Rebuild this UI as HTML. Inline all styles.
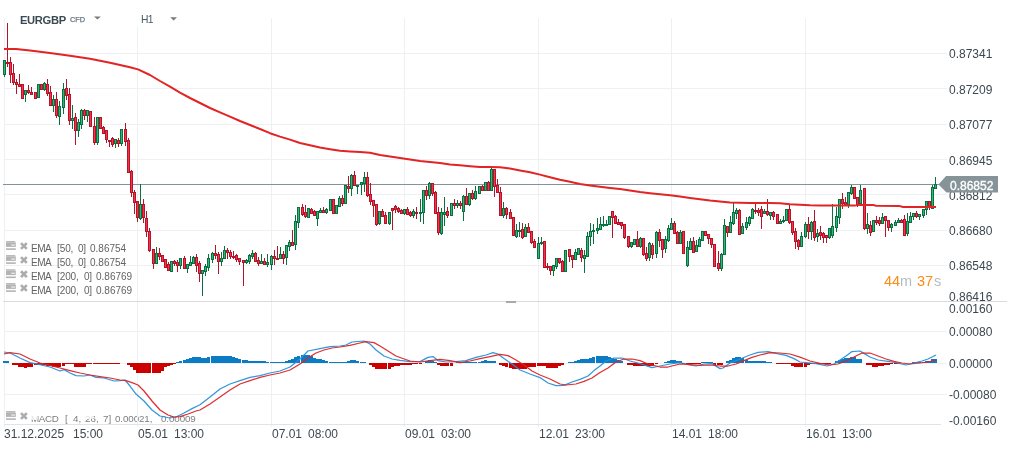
<!DOCTYPE html>
<html><head><meta charset="utf-8"><title>EURGBP H1</title>
<style>
html,body{margin:0;padding:0;background:#fff;}
body{width:1009px;height:450px;position:relative;overflow:hidden;font-family:"Liberation Sans",sans-serif;}
.t{position:absolute;white-space:pre;line-height:1;will-change:transform;}
.ax{font-size:12px;color:#3c4850;left:949px;}
.tm{font-size:12px;color:#3c4850;top:427.6px;}
.lg{font-size:9.6px;color:#6e6e6e;left:31.2px;}
</style></head><body>
<div class="t" style="left:30.7px;top:413.9px;font-size:9.8px;color:#7e7e7e;letter-spacing:-0.3px">MACD</div><div class="t" style="left:64.7px;top:413.9px;font-size:9.8px;color:#7e7e7e;letter-spacing:0px">[</div><div class="t" style="left:73.3px;top:413.9px;font-size:9.8px;color:#7e7e7e;letter-spacing:0px">4,</div><div class="t" style="left:84.6px;top:413.9px;font-size:9.8px;color:#7e7e7e;letter-spacing:0px">26,</div><div class="t" style="left:103.4px;top:413.9px;font-size:9.8px;color:#7e7e7e;letter-spacing:0px">7]</div><div class="t" style="left:114.8px;top:413.9px;font-size:9.8px;color:#7e7e7e;letter-spacing:-0.1px">0.00021,</div><div class="t" style="left:161.1px;top:413.9px;font-size:9.8px;color:#7e7e7e;letter-spacing:-0.1px">0.00009</div>
<div style="position:absolute;left:31px;top:414.5px;width:7px;height:5px;background:#fff;opacity:.8;border-radius:2px"></div>
<div style="position:absolute;left:85px;top:414.5px;width:9px;height:4.5px;background:#fff;opacity:.75;border-radius:2px"></div>
<svg width="1009" height="450" viewBox="0 0 1009 450" style="position:absolute;left:0;top:0">
<rect x="4" y="53" width="943" height="1" fill="#eef0f3"/>
<rect x="4" y="88" width="943" height="1" fill="#eef0f3"/>
<rect x="4" y="124" width="943" height="1" fill="#eef0f3"/>
<rect x="4" y="159" width="943" height="1" fill="#eef0f3"/>
<rect x="4" y="194" width="943" height="1" fill="#eef0f3"/>
<rect x="4" y="230" width="943" height="1" fill="#eef0f3"/>
<rect x="4" y="265" width="943" height="1" fill="#eef0f3"/>
<rect x="4" y="331" width="943" height="1" fill="#eef0f3"/>
<rect x="4" y="363" width="943" height="1" fill="#eef0f3"/>
<rect x="4" y="394" width="943" height="1" fill="#eef0f3"/>
<rect x="4" y="18" width="1" height="409" fill="#eef0f3"/>
<rect x="137" y="18" width="1" height="409" fill="#eef0f3"/>
<rect x="271" y="18" width="1" height="409" fill="#eef0f3"/>
<rect x="404" y="18" width="1" height="409" fill="#eef0f3"/>
<rect x="538" y="18" width="1" height="409" fill="#eef0f3"/>
<rect x="671" y="18" width="1" height="409" fill="#eef0f3"/>
<rect x="805" y="18" width="1" height="409" fill="#eef0f3"/>
<rect x="3" y="301" width="1004" height="1" fill="#d9dbde"/>
<rect x="506" y="301" width="10" height="2" fill="#a9a9a9"/>
<rect x="4" y="424" width="937" height="1" fill="#e2e3e6"/>
<rect x="134" y="10" width="50" height="16.5" fill="#fff"/>
<rect x="3" y="184" width="937" height="1" fill="#86929a"/>
<rect x="4" y="60" width="1" height="17" fill="#0b7040"/>
<rect x="3" y="60" width="3" height="15" fill="#0b7040"/>
<rect x="4" y="61" width="1" height="13" fill="#2db87a"/>
<rect x="7" y="23" width="1" height="44" fill="#b0152a"/>
<rect x="6" y="62" width="3" height="2" fill="#b0152a"/>
<rect x="10" y="57" width="1" height="26" fill="#b0152a"/>
<rect x="9" y="62" width="3" height="13" fill="#b0152a"/>
<rect x="10" y="63" width="1" height="11" fill="#ff2d45"/>
<rect x="13" y="64" width="1" height="21" fill="#b0152a"/>
<rect x="12" y="73" width="3" height="10" fill="#b0152a"/>
<rect x="13" y="74" width="1" height="8" fill="#ff2d45"/>
<rect x="16" y="79" width="1" height="15" fill="#b0152a"/>
<rect x="15" y="82" width="3" height="3" fill="#b0152a"/>
<rect x="16" y="83" width="1" height="1" fill="#ff2d45"/>
<rect x="19" y="74" width="1" height="13" fill="#b0152a"/>
<rect x="18" y="84" width="3" height="3" fill="#b0152a"/>
<rect x="19" y="85" width="1" height="1" fill="#ff2d45"/>
<rect x="22" y="84" width="1" height="15" fill="#b0152a"/>
<rect x="21" y="84" width="3" height="15" fill="#b0152a"/>
<rect x="22" y="85" width="1" height="13" fill="#ff2d45"/>
<rect x="25" y="90" width="1" height="12" fill="#0b7040"/>
<rect x="24" y="90" width="3" height="5" fill="#0b7040"/>
<rect x="25" y="91" width="1" height="3" fill="#2db87a"/>
<rect x="28" y="85" width="1" height="9" fill="#b0152a"/>
<rect x="27" y="90" width="3" height="3" fill="#b0152a"/>
<rect x="28" y="91" width="1" height="1" fill="#ff2d45"/>
<rect x="31" y="87" width="1" height="8" fill="#b0152a"/>
<rect x="30" y="92" width="3" height="3" fill="#b0152a"/>
<rect x="31" y="93" width="1" height="1" fill="#ff2d45"/>
<rect x="35" y="92" width="1" height="7" fill="#b0152a"/>
<rect x="34" y="92" width="3" height="7" fill="#b0152a"/>
<rect x="35" y="93" width="1" height="5" fill="#ff2d45"/>
<rect x="38" y="84" width="1" height="14" fill="#0b7040"/>
<rect x="37" y="84" width="3" height="14" fill="#0b7040"/>
<rect x="38" y="85" width="1" height="12" fill="#2db87a"/>
<rect x="41" y="84" width="1" height="6" fill="#b0152a"/>
<rect x="40" y="84" width="3" height="6" fill="#b0152a"/>
<rect x="41" y="85" width="1" height="4" fill="#ff2d45"/>
<rect x="44" y="82" width="1" height="9" fill="#0b7040"/>
<rect x="43" y="83" width="3" height="7" fill="#0b7040"/>
<rect x="44" y="84" width="1" height="5" fill="#2db87a"/>
<rect x="47" y="79" width="1" height="17" fill="#b0152a"/>
<rect x="46" y="84" width="3" height="10" fill="#b0152a"/>
<rect x="47" y="85" width="1" height="8" fill="#ff2d45"/>
<rect x="50" y="86" width="1" height="20" fill="#b0152a"/>
<rect x="49" y="92" width="3" height="14" fill="#b0152a"/>
<rect x="50" y="93" width="1" height="12" fill="#ff2d45"/>
<rect x="53" y="95" width="1" height="17" fill="#0b7040"/>
<rect x="52" y="99" width="3" height="7" fill="#0b7040"/>
<rect x="53" y="100" width="1" height="5" fill="#2db87a"/>
<rect x="56" y="92" width="1" height="26" fill="#b0152a"/>
<rect x="55" y="99" width="3" height="17" fill="#b0152a"/>
<rect x="56" y="100" width="1" height="15" fill="#ff2d45"/>
<rect x="59" y="101" width="1" height="24" fill="#0b7040"/>
<rect x="58" y="106" width="3" height="11" fill="#0b7040"/>
<rect x="59" y="107" width="1" height="9" fill="#2db87a"/>
<rect x="63" y="83" width="1" height="31" fill="#0b7040"/>
<rect x="62" y="89" width="3" height="19" fill="#0b7040"/>
<rect x="63" y="90" width="1" height="17" fill="#2db87a"/>
<rect x="66" y="79" width="1" height="21" fill="#b0152a"/>
<rect x="65" y="88" width="3" height="8" fill="#b0152a"/>
<rect x="66" y="89" width="1" height="6" fill="#ff2d45"/>
<rect x="69" y="88" width="1" height="37" fill="#b0152a"/>
<rect x="68" y="94" width="3" height="27" fill="#b0152a"/>
<rect x="69" y="95" width="1" height="25" fill="#ff2d45"/>
<rect x="72" y="105" width="1" height="24" fill="#0b7040"/>
<rect x="71" y="118" width="3" height="3" fill="#0b7040"/>
<rect x="72" y="119" width="1" height="1" fill="#2db87a"/>
<rect x="75" y="113" width="1" height="32" fill="#b0152a"/>
<rect x="74" y="117" width="3" height="14" fill="#b0152a"/>
<rect x="75" y="118" width="1" height="12" fill="#ff2d45"/>
<rect x="78" y="119" width="1" height="18" fill="#0b7040"/>
<rect x="77" y="122" width="3" height="9" fill="#0b7040"/>
<rect x="78" y="123" width="1" height="7" fill="#2db87a"/>
<rect x="81" y="109" width="1" height="20" fill="#0b7040"/>
<rect x="80" y="110" width="3" height="15" fill="#0b7040"/>
<rect x="81" y="111" width="1" height="13" fill="#2db87a"/>
<rect x="84" y="109" width="1" height="11" fill="#b0152a"/>
<rect x="83" y="110" width="3" height="6" fill="#b0152a"/>
<rect x="84" y="111" width="1" height="4" fill="#ff2d45"/>
<rect x="87" y="110" width="1" height="12" fill="#0b7040"/>
<rect x="86" y="110" width="3" height="6" fill="#0b7040"/>
<rect x="87" y="111" width="1" height="4" fill="#2db87a"/>
<rect x="90" y="111" width="1" height="16" fill="#b0152a"/>
<rect x="89" y="111" width="3" height="16" fill="#b0152a"/>
<rect x="90" y="112" width="1" height="14" fill="#ff2d45"/>
<rect x="94" y="117" width="1" height="28" fill="#b0152a"/>
<rect x="93" y="126" width="3" height="17" fill="#b0152a"/>
<rect x="94" y="127" width="1" height="15" fill="#ff2d45"/>
<rect x="97" y="117" width="1" height="28" fill="#0b7040"/>
<rect x="96" y="117" width="3" height="26" fill="#0b7040"/>
<rect x="97" y="118" width="1" height="24" fill="#2db87a"/>
<rect x="100" y="117" width="1" height="12" fill="#b0152a"/>
<rect x="99" y="117" width="3" height="12" fill="#b0152a"/>
<rect x="100" y="118" width="1" height="10" fill="#ff2d45"/>
<rect x="103" y="126" width="1" height="8" fill="#b0152a"/>
<rect x="102" y="127" width="3" height="7" fill="#b0152a"/>
<rect x="103" y="128" width="1" height="5" fill="#ff2d45"/>
<rect x="106" y="130" width="1" height="13" fill="#b0152a"/>
<rect x="105" y="130" width="3" height="10" fill="#b0152a"/>
<rect x="106" y="131" width="1" height="8" fill="#ff2d45"/>
<rect x="109" y="140" width="1" height="7" fill="#b0152a"/>
<rect x="108" y="140" width="3" height="2" fill="#b0152a"/>
<rect x="112" y="137" width="1" height="10" fill="#b0152a"/>
<rect x="111" y="138" width="3" height="7" fill="#b0152a"/>
<rect x="112" y="139" width="1" height="5" fill="#ff2d45"/>
<rect x="115" y="139" width="1" height="9" fill="#0b7040"/>
<rect x="114" y="139" width="3" height="5" fill="#0b7040"/>
<rect x="115" y="140" width="1" height="3" fill="#2db87a"/>
<rect x="118" y="138" width="1" height="9" fill="#b0152a"/>
<rect x="117" y="140" width="3" height="4" fill="#b0152a"/>
<rect x="118" y="141" width="1" height="2" fill="#ff2d45"/>
<rect x="121" y="129" width="1" height="17" fill="#0b7040"/>
<rect x="120" y="129" width="3" height="15" fill="#0b7040"/>
<rect x="121" y="130" width="1" height="13" fill="#2db87a"/>
<rect x="125" y="123" width="1" height="23" fill="#b0152a"/>
<rect x="124" y="129" width="3" height="13" fill="#b0152a"/>
<rect x="125" y="130" width="1" height="11" fill="#ff2d45"/>
<rect x="128" y="138" width="1" height="35" fill="#b0152a"/>
<rect x="127" y="140" width="3" height="33" fill="#b0152a"/>
<rect x="128" y="141" width="1" height="31" fill="#ff2d45"/>
<rect x="131" y="170" width="1" height="27" fill="#b0152a"/>
<rect x="130" y="171" width="3" height="22" fill="#b0152a"/>
<rect x="131" y="172" width="1" height="20" fill="#ff2d45"/>
<rect x="134" y="190" width="1" height="24" fill="#b0152a"/>
<rect x="133" y="192" width="3" height="11" fill="#b0152a"/>
<rect x="134" y="193" width="1" height="9" fill="#ff2d45"/>
<rect x="137" y="201" width="1" height="21" fill="#b0152a"/>
<rect x="136" y="201" width="3" height="17" fill="#b0152a"/>
<rect x="137" y="202" width="1" height="15" fill="#ff2d45"/>
<rect x="140" y="184" width="1" height="36" fill="#0b7040"/>
<rect x="139" y="204" width="3" height="15" fill="#0b7040"/>
<rect x="140" y="205" width="1" height="13" fill="#2db87a"/>
<rect x="143" y="199" width="1" height="24" fill="#b0152a"/>
<rect x="142" y="204" width="3" height="14" fill="#b0152a"/>
<rect x="143" y="205" width="1" height="12" fill="#ff2d45"/>
<rect x="146" y="211" width="1" height="26" fill="#b0152a"/>
<rect x="145" y="218" width="3" height="14" fill="#b0152a"/>
<rect x="146" y="219" width="1" height="12" fill="#ff2d45"/>
<rect x="149" y="228" width="1" height="24" fill="#b0152a"/>
<rect x="148" y="231" width="3" height="20" fill="#b0152a"/>
<rect x="149" y="232" width="1" height="18" fill="#ff2d45"/>
<rect x="153" y="249" width="1" height="20" fill="#b0152a"/>
<rect x="152" y="249" width="3" height="15" fill="#b0152a"/>
<rect x="153" y="250" width="1" height="13" fill="#ff2d45"/>
<rect x="156" y="247" width="1" height="17" fill="#0b7040"/>
<rect x="155" y="253" width="3" height="11" fill="#0b7040"/>
<rect x="156" y="254" width="1" height="9" fill="#2db87a"/>
<rect x="159" y="248" width="1" height="12" fill="#b0152a"/>
<rect x="158" y="253" width="3" height="4" fill="#b0152a"/>
<rect x="159" y="254" width="1" height="2" fill="#ff2d45"/>
<rect x="162" y="255" width="1" height="7" fill="#b0152a"/>
<rect x="161" y="255" width="3" height="7" fill="#b0152a"/>
<rect x="162" y="256" width="1" height="5" fill="#ff2d45"/>
<rect x="165" y="259" width="1" height="9" fill="#b0152a"/>
<rect x="164" y="259" width="3" height="9" fill="#b0152a"/>
<rect x="165" y="260" width="1" height="7" fill="#ff2d45"/>
<rect x="168" y="262" width="1" height="9" fill="#b0152a"/>
<rect x="167" y="264" width="3" height="7" fill="#b0152a"/>
<rect x="168" y="265" width="1" height="5" fill="#ff2d45"/>
<rect x="171" y="261" width="1" height="11" fill="#0b7040"/>
<rect x="170" y="261" width="3" height="11" fill="#0b7040"/>
<rect x="171" y="262" width="1" height="9" fill="#2db87a"/>
<rect x="174" y="260" width="1" height="6" fill="#b0152a"/>
<rect x="173" y="261" width="3" height="3" fill="#b0152a"/>
<rect x="174" y="262" width="1" height="1" fill="#ff2d45"/>
<rect x="177" y="260" width="1" height="12" fill="#b0152a"/>
<rect x="176" y="262" width="3" height="4" fill="#b0152a"/>
<rect x="177" y="263" width="1" height="2" fill="#ff2d45"/>
<rect x="180" y="258" width="1" height="11" fill="#0b7040"/>
<rect x="179" y="258" width="3" height="8" fill="#0b7040"/>
<rect x="180" y="259" width="1" height="6" fill="#2db87a"/>
<rect x="184" y="256" width="1" height="13" fill="#b0152a"/>
<rect x="183" y="258" width="3" height="11" fill="#b0152a"/>
<rect x="184" y="259" width="1" height="9" fill="#ff2d45"/>
<rect x="187" y="264" width="1" height="9" fill="#0b7040"/>
<rect x="186" y="264" width="3" height="5" fill="#0b7040"/>
<rect x="187" y="265" width="1" height="3" fill="#2db87a"/>
<rect x="190" y="256" width="1" height="10" fill="#0b7040"/>
<rect x="189" y="262" width="3" height="4" fill="#0b7040"/>
<rect x="190" y="263" width="1" height="2" fill="#2db87a"/>
<rect x="193" y="256" width="1" height="8" fill="#0b7040"/>
<rect x="192" y="257" width="3" height="7" fill="#0b7040"/>
<rect x="193" y="258" width="1" height="5" fill="#2db87a"/>
<rect x="196" y="254" width="1" height="18" fill="#b0152a"/>
<rect x="195" y="257" width="3" height="9" fill="#b0152a"/>
<rect x="196" y="258" width="1" height="7" fill="#ff2d45"/>
<rect x="199" y="261" width="1" height="21" fill="#b0152a"/>
<rect x="198" y="263" width="3" height="11" fill="#b0152a"/>
<rect x="199" y="264" width="1" height="9" fill="#ff2d45"/>
<rect x="202" y="270" width="1" height="26" fill="#0b7040"/>
<rect x="201" y="270" width="3" height="4" fill="#0b7040"/>
<rect x="202" y="271" width="1" height="2" fill="#2db87a"/>
<rect x="205" y="264" width="1" height="12" fill="#0b7040"/>
<rect x="204" y="266" width="3" height="6" fill="#0b7040"/>
<rect x="205" y="267" width="1" height="4" fill="#2db87a"/>
<rect x="208" y="254" width="1" height="17" fill="#0b7040"/>
<rect x="207" y="258" width="3" height="10" fill="#0b7040"/>
<rect x="208" y="259" width="1" height="8" fill="#2db87a"/>
<rect x="212" y="252" width="1" height="11" fill="#0b7040"/>
<rect x="211" y="253" width="3" height="7" fill="#0b7040"/>
<rect x="212" y="254" width="1" height="5" fill="#2db87a"/>
<rect x="215" y="245" width="1" height="14" fill="#b0152a"/>
<rect x="214" y="253" width="3" height="3" fill="#b0152a"/>
<rect x="215" y="254" width="1" height="1" fill="#ff2d45"/>
<rect x="218" y="252" width="1" height="22" fill="#b0152a"/>
<rect x="217" y="254" width="3" height="8" fill="#b0152a"/>
<rect x="218" y="255" width="1" height="6" fill="#ff2d45"/>
<rect x="221" y="252" width="1" height="14" fill="#0b7040"/>
<rect x="220" y="258" width="3" height="4" fill="#0b7040"/>
<rect x="221" y="259" width="1" height="2" fill="#2db87a"/>
<rect x="224" y="246" width="1" height="13" fill="#0b7040"/>
<rect x="223" y="250" width="3" height="9" fill="#0b7040"/>
<rect x="224" y="251" width="1" height="7" fill="#2db87a"/>
<rect x="227" y="248" width="1" height="11" fill="#b0152a"/>
<rect x="226" y="250" width="3" height="3" fill="#b0152a"/>
<rect x="227" y="251" width="1" height="1" fill="#ff2d45"/>
<rect x="230" y="250" width="1" height="9" fill="#b0152a"/>
<rect x="229" y="252" width="3" height="5" fill="#b0152a"/>
<rect x="230" y="253" width="1" height="3" fill="#ff2d45"/>
<rect x="233" y="251" width="1" height="8" fill="#b0152a"/>
<rect x="232" y="256" width="3" height="2" fill="#b0152a"/>
<rect x="236" y="254" width="1" height="8" fill="#b0152a"/>
<rect x="235" y="255" width="3" height="5" fill="#b0152a"/>
<rect x="236" y="256" width="1" height="3" fill="#ff2d45"/>
<rect x="239" y="258" width="1" height="7" fill="#b0152a"/>
<rect x="238" y="258" width="3" height="4" fill="#b0152a"/>
<rect x="239" y="259" width="1" height="2" fill="#ff2d45"/>
<rect x="243" y="260" width="1" height="26" fill="#b0152a"/>
<rect x="242" y="260" width="3" height="3" fill="#b0152a"/>
<rect x="243" y="261" width="1" height="1" fill="#ff2d45"/>
<rect x="246" y="259" width="1" height="5" fill="#0b7040"/>
<rect x="245" y="260" width="3" height="3" fill="#0b7040"/>
<rect x="246" y="261" width="1" height="1" fill="#2db87a"/>
<rect x="249" y="254" width="1" height="10" fill="#0b7040"/>
<rect x="248" y="255" width="3" height="7" fill="#0b7040"/>
<rect x="249" y="256" width="1" height="5" fill="#2db87a"/>
<rect x="252" y="250" width="1" height="9" fill="#0b7040"/>
<rect x="251" y="253" width="3" height="4" fill="#0b7040"/>
<rect x="252" y="254" width="1" height="2" fill="#2db87a"/>
<rect x="255" y="252" width="1" height="10" fill="#b0152a"/>
<rect x="254" y="253" width="3" height="9" fill="#b0152a"/>
<rect x="255" y="254" width="1" height="7" fill="#ff2d45"/>
<rect x="258" y="257" width="1" height="9" fill="#b0152a"/>
<rect x="257" y="260" width="3" height="4" fill="#b0152a"/>
<rect x="258" y="261" width="1" height="2" fill="#ff2d45"/>
<rect x="261" y="254" width="1" height="10" fill="#0b7040"/>
<rect x="260" y="261" width="3" height="3" fill="#0b7040"/>
<rect x="261" y="262" width="1" height="1" fill="#2db87a"/>
<rect x="264" y="258" width="1" height="7" fill="#b0152a"/>
<rect x="263" y="261" width="3" height="4" fill="#b0152a"/>
<rect x="264" y="262" width="1" height="2" fill="#ff2d45"/>
<rect x="267" y="254" width="1" height="13" fill="#0b7040"/>
<rect x="266" y="262" width="3" height="3" fill="#0b7040"/>
<rect x="267" y="263" width="1" height="1" fill="#2db87a"/>
<rect x="271" y="255" width="1" height="15" fill="#0b7040"/>
<rect x="270" y="256" width="3" height="9" fill="#0b7040"/>
<rect x="271" y="257" width="1" height="7" fill="#2db87a"/>
<rect x="274" y="250" width="1" height="15" fill="#b0152a"/>
<rect x="273" y="256" width="3" height="3" fill="#b0152a"/>
<rect x="274" y="257" width="1" height="1" fill="#ff2d45"/>
<rect x="277" y="246" width="1" height="14" fill="#b0152a"/>
<rect x="276" y="258" width="3" height="2" fill="#b0152a"/>
<rect x="280" y="247" width="1" height="12" fill="#0b7040"/>
<rect x="279" y="254" width="3" height="5" fill="#0b7040"/>
<rect x="280" y="255" width="1" height="3" fill="#2db87a"/>
<rect x="283" y="251" width="1" height="13" fill="#b0152a"/>
<rect x="282" y="254" width="3" height="5" fill="#b0152a"/>
<rect x="283" y="255" width="1" height="3" fill="#ff2d45"/>
<rect x="286" y="245" width="1" height="20" fill="#0b7040"/>
<rect x="285" y="245" width="3" height="13" fill="#0b7040"/>
<rect x="286" y="246" width="1" height="11" fill="#2db87a"/>
<rect x="289" y="240" width="1" height="11" fill="#0b7040"/>
<rect x="288" y="242" width="3" height="5" fill="#0b7040"/>
<rect x="289" y="243" width="1" height="3" fill="#2db87a"/>
<rect x="292" y="230" width="1" height="16" fill="#b0152a"/>
<rect x="291" y="242" width="3" height="4" fill="#b0152a"/>
<rect x="292" y="243" width="1" height="2" fill="#ff2d45"/>
<rect x="295" y="215" width="1" height="35" fill="#0b7040"/>
<rect x="294" y="221" width="3" height="24" fill="#0b7040"/>
<rect x="295" y="222" width="1" height="22" fill="#2db87a"/>
<rect x="298" y="207" width="1" height="21" fill="#0b7040"/>
<rect x="297" y="207" width="3" height="16" fill="#0b7040"/>
<rect x="298" y="208" width="1" height="14" fill="#2db87a"/>
<rect x="302" y="204" width="1" height="12" fill="#b0152a"/>
<rect x="301" y="207" width="3" height="8" fill="#b0152a"/>
<rect x="302" y="208" width="1" height="6" fill="#ff2d45"/>
<rect x="305" y="205" width="1" height="13" fill="#b0152a"/>
<rect x="304" y="212" width="3" height="5" fill="#b0152a"/>
<rect x="305" y="213" width="1" height="3" fill="#ff2d45"/>
<rect x="308" y="208" width="1" height="10" fill="#0b7040"/>
<rect x="307" y="208" width="3" height="10" fill="#0b7040"/>
<rect x="308" y="209" width="1" height="8" fill="#2db87a"/>
<rect x="311" y="208" width="1" height="6" fill="#b0152a"/>
<rect x="310" y="209" width="3" height="5" fill="#b0152a"/>
<rect x="311" y="210" width="1" height="3" fill="#ff2d45"/>
<rect x="314" y="210" width="1" height="6" fill="#b0152a"/>
<rect x="313" y="211" width="3" height="5" fill="#b0152a"/>
<rect x="314" y="212" width="1" height="3" fill="#ff2d45"/>
<rect x="317" y="211" width="1" height="15" fill="#0b7040"/>
<rect x="316" y="211" width="3" height="8" fill="#0b7040"/>
<rect x="317" y="212" width="1" height="6" fill="#2db87a"/>
<rect x="320" y="208" width="1" height="5" fill="#0b7040"/>
<rect x="319" y="210" width="3" height="3" fill="#0b7040"/>
<rect x="320" y="211" width="1" height="1" fill="#2db87a"/>
<rect x="323" y="207" width="1" height="6" fill="#b0152a"/>
<rect x="322" y="210" width="3" height="3" fill="#b0152a"/>
<rect x="323" y="211" width="1" height="1" fill="#ff2d45"/>
<rect x="326" y="208" width="1" height="6" fill="#0b7040"/>
<rect x="325" y="209" width="3" height="4" fill="#0b7040"/>
<rect x="326" y="210" width="1" height="2" fill="#2db87a"/>
<rect x="330" y="199" width="1" height="12" fill="#0b7040"/>
<rect x="329" y="199" width="3" height="12" fill="#0b7040"/>
<rect x="330" y="200" width="1" height="10" fill="#2db87a"/>
<rect x="333" y="199" width="1" height="15" fill="#b0152a"/>
<rect x="332" y="199" width="3" height="15" fill="#b0152a"/>
<rect x="333" y="200" width="1" height="13" fill="#ff2d45"/>
<rect x="336" y="205" width="1" height="9" fill="#0b7040"/>
<rect x="335" y="205" width="3" height="9" fill="#0b7040"/>
<rect x="336" y="206" width="1" height="7" fill="#2db87a"/>
<rect x="339" y="196" width="1" height="11" fill="#0b7040"/>
<rect x="338" y="198" width="3" height="9" fill="#0b7040"/>
<rect x="339" y="199" width="1" height="7" fill="#2db87a"/>
<rect x="342" y="195" width="1" height="11" fill="#b0152a"/>
<rect x="341" y="198" width="3" height="6" fill="#b0152a"/>
<rect x="342" y="199" width="1" height="4" fill="#ff2d45"/>
<rect x="345" y="185" width="1" height="19" fill="#0b7040"/>
<rect x="344" y="185" width="3" height="19" fill="#0b7040"/>
<rect x="345" y="186" width="1" height="17" fill="#2db87a"/>
<rect x="348" y="176" width="1" height="17" fill="#b0152a"/>
<rect x="347" y="186" width="3" height="3" fill="#b0152a"/>
<rect x="348" y="187" width="1" height="1" fill="#ff2d45"/>
<rect x="351" y="174" width="1" height="22" fill="#0b7040"/>
<rect x="350" y="175" width="3" height="14" fill="#0b7040"/>
<rect x="351" y="176" width="1" height="12" fill="#2db87a"/>
<rect x="354" y="171" width="1" height="15" fill="#b0152a"/>
<rect x="353" y="175" width="3" height="11" fill="#b0152a"/>
<rect x="354" y="176" width="1" height="9" fill="#ff2d45"/>
<rect x="357" y="185" width="1" height="9" fill="#0b7040"/>
<rect x="356" y="185" width="3" height="2" fill="#0b7040"/>
<rect x="361" y="182" width="1" height="13" fill="#0b7040"/>
<rect x="360" y="182" width="3" height="3" fill="#0b7040"/>
<rect x="361" y="183" width="1" height="1" fill="#2db87a"/>
<rect x="364" y="172" width="1" height="20" fill="#0b7040"/>
<rect x="363" y="177" width="3" height="7" fill="#0b7040"/>
<rect x="364" y="178" width="1" height="5" fill="#2db87a"/>
<rect x="367" y="172" width="1" height="25" fill="#b0152a"/>
<rect x="366" y="177" width="3" height="19" fill="#b0152a"/>
<rect x="367" y="178" width="1" height="17" fill="#ff2d45"/>
<rect x="370" y="183" width="1" height="22" fill="#b0152a"/>
<rect x="369" y="194" width="3" height="8" fill="#b0152a"/>
<rect x="370" y="195" width="1" height="6" fill="#ff2d45"/>
<rect x="373" y="200" width="1" height="17" fill="#b0152a"/>
<rect x="372" y="200" width="3" height="6" fill="#b0152a"/>
<rect x="373" y="201" width="1" height="4" fill="#ff2d45"/>
<rect x="376" y="204" width="1" height="22" fill="#b0152a"/>
<rect x="375" y="204" width="3" height="21" fill="#b0152a"/>
<rect x="376" y="205" width="1" height="19" fill="#ff2d45"/>
<rect x="379" y="211" width="1" height="14" fill="#0b7040"/>
<rect x="378" y="211" width="3" height="13" fill="#0b7040"/>
<rect x="379" y="212" width="1" height="11" fill="#2db87a"/>
<rect x="382" y="209" width="1" height="8" fill="#b0152a"/>
<rect x="381" y="211" width="3" height="6" fill="#b0152a"/>
<rect x="382" y="212" width="1" height="4" fill="#ff2d45"/>
<rect x="385" y="212" width="1" height="12" fill="#b0152a"/>
<rect x="384" y="215" width="3" height="9" fill="#b0152a"/>
<rect x="385" y="216" width="1" height="7" fill="#ff2d45"/>
<rect x="389" y="212" width="1" height="13" fill="#0b7040"/>
<rect x="388" y="212" width="3" height="12" fill="#0b7040"/>
<rect x="389" y="213" width="1" height="10" fill="#2db87a"/>
<rect x="392" y="208" width="1" height="22" fill="#b0152a"/>
<rect x="391" y="208" width="3" height="3" fill="#b0152a"/>
<rect x="392" y="209" width="1" height="1" fill="#ff2d45"/>
<rect x="395" y="205" width="1" height="8" fill="#b0152a"/>
<rect x="394" y="206" width="3" height="4" fill="#b0152a"/>
<rect x="395" y="207" width="1" height="2" fill="#ff2d45"/>
<rect x="398" y="207" width="1" height="6" fill="#b0152a"/>
<rect x="397" y="208" width="3" height="4" fill="#b0152a"/>
<rect x="398" y="209" width="1" height="2" fill="#ff2d45"/>
<rect x="401" y="209" width="1" height="5" fill="#b0152a"/>
<rect x="400" y="210" width="3" height="4" fill="#b0152a"/>
<rect x="401" y="211" width="1" height="2" fill="#ff2d45"/>
<rect x="404" y="209" width="1" height="6" fill="#0b7040"/>
<rect x="403" y="209" width="3" height="5" fill="#0b7040"/>
<rect x="404" y="210" width="1" height="3" fill="#2db87a"/>
<rect x="407" y="207" width="1" height="8" fill="#b0152a"/>
<rect x="406" y="209" width="3" height="6" fill="#b0152a"/>
<rect x="407" y="210" width="1" height="4" fill="#ff2d45"/>
<rect x="410" y="211" width="1" height="6" fill="#b0152a"/>
<rect x="409" y="212" width="3" height="4" fill="#b0152a"/>
<rect x="410" y="213" width="1" height="2" fill="#ff2d45"/>
<rect x="413" y="209" width="1" height="9" fill="#0b7040"/>
<rect x="412" y="211" width="3" height="5" fill="#0b7040"/>
<rect x="413" y="212" width="1" height="3" fill="#2db87a"/>
<rect x="416" y="207" width="1" height="12" fill="#b0152a"/>
<rect x="415" y="212" width="3" height="2" fill="#b0152a"/>
<rect x="420" y="199" width="1" height="23" fill="#0b7040"/>
<rect x="419" y="212" width="3" height="2" fill="#0b7040"/>
<rect x="423" y="190" width="1" height="34" fill="#0b7040"/>
<rect x="422" y="190" width="3" height="23" fill="#0b7040"/>
<rect x="423" y="191" width="1" height="21" fill="#2db87a"/>
<rect x="426" y="186" width="1" height="14" fill="#b0152a"/>
<rect x="425" y="190" width="3" height="6" fill="#b0152a"/>
<rect x="426" y="191" width="1" height="4" fill="#ff2d45"/>
<rect x="429" y="182" width="1" height="17" fill="#0b7040"/>
<rect x="428" y="183" width="3" height="13" fill="#0b7040"/>
<rect x="429" y="184" width="1" height="11" fill="#2db87a"/>
<rect x="432" y="183" width="1" height="13" fill="#b0152a"/>
<rect x="431" y="183" width="3" height="11" fill="#b0152a"/>
<rect x="432" y="184" width="1" height="9" fill="#ff2d45"/>
<rect x="435" y="191" width="1" height="23" fill="#b0152a"/>
<rect x="434" y="192" width="3" height="22" fill="#b0152a"/>
<rect x="435" y="193" width="1" height="20" fill="#ff2d45"/>
<rect x="438" y="207" width="1" height="28" fill="#b0152a"/>
<rect x="437" y="212" width="3" height="21" fill="#b0152a"/>
<rect x="438" y="213" width="1" height="19" fill="#ff2d45"/>
<rect x="441" y="208" width="1" height="27" fill="#0b7040"/>
<rect x="440" y="212" width="3" height="22" fill="#0b7040"/>
<rect x="441" y="213" width="1" height="20" fill="#2db87a"/>
<rect x="444" y="197" width="1" height="29" fill="#0b7040"/>
<rect x="443" y="212" width="3" height="3" fill="#0b7040"/>
<rect x="444" y="213" width="1" height="1" fill="#2db87a"/>
<rect x="447" y="207" width="1" height="11" fill="#b0152a"/>
<rect x="446" y="211" width="3" height="5" fill="#b0152a"/>
<rect x="447" y="212" width="1" height="3" fill="#ff2d45"/>
<rect x="451" y="203" width="1" height="13" fill="#0b7040"/>
<rect x="450" y="203" width="3" height="13" fill="#0b7040"/>
<rect x="451" y="204" width="1" height="11" fill="#2db87a"/>
<rect x="454" y="199" width="1" height="10" fill="#b0152a"/>
<rect x="453" y="203" width="3" height="3" fill="#b0152a"/>
<rect x="454" y="204" width="1" height="1" fill="#ff2d45"/>
<rect x="457" y="200" width="1" height="8" fill="#0b7040"/>
<rect x="456" y="203" width="3" height="3" fill="#0b7040"/>
<rect x="457" y="204" width="1" height="1" fill="#2db87a"/>
<rect x="460" y="201" width="1" height="8" fill="#b0152a"/>
<rect x="459" y="203" width="3" height="3" fill="#b0152a"/>
<rect x="460" y="204" width="1" height="1" fill="#ff2d45"/>
<rect x="463" y="195" width="1" height="26" fill="#0b7040"/>
<rect x="462" y="196" width="3" height="16" fill="#0b7040"/>
<rect x="463" y="197" width="1" height="14" fill="#2db87a"/>
<rect x="466" y="188" width="1" height="17" fill="#b0152a"/>
<rect x="465" y="196" width="3" height="9" fill="#b0152a"/>
<rect x="466" y="197" width="1" height="7" fill="#ff2d45"/>
<rect x="469" y="193" width="1" height="13" fill="#0b7040"/>
<rect x="468" y="193" width="3" height="12" fill="#0b7040"/>
<rect x="469" y="194" width="1" height="10" fill="#2db87a"/>
<rect x="472" y="190" width="1" height="10" fill="#b0152a"/>
<rect x="471" y="193" width="3" height="6" fill="#b0152a"/>
<rect x="472" y="194" width="1" height="4" fill="#ff2d45"/>
<rect x="475" y="186" width="1" height="14" fill="#0b7040"/>
<rect x="474" y="191" width="3" height="8" fill="#0b7040"/>
<rect x="475" y="192" width="1" height="6" fill="#2db87a"/>
<rect x="479" y="186" width="1" height="8" fill="#0b7040"/>
<rect x="478" y="186" width="3" height="8" fill="#0b7040"/>
<rect x="479" y="187" width="1" height="6" fill="#2db87a"/>
<rect x="482" y="185" width="1" height="6" fill="#b0152a"/>
<rect x="481" y="186" width="3" height="5" fill="#b0152a"/>
<rect x="482" y="187" width="1" height="3" fill="#ff2d45"/>
<rect x="485" y="182" width="1" height="9" fill="#0b7040"/>
<rect x="484" y="182" width="3" height="9" fill="#0b7040"/>
<rect x="485" y="183" width="1" height="7" fill="#2db87a"/>
<rect x="488" y="181" width="1" height="10" fill="#b0152a"/>
<rect x="487" y="182" width="3" height="9" fill="#b0152a"/>
<rect x="488" y="183" width="1" height="7" fill="#ff2d45"/>
<rect x="491" y="168" width="1" height="23" fill="#0b7040"/>
<rect x="490" y="169" width="3" height="22" fill="#0b7040"/>
<rect x="491" y="170" width="1" height="20" fill="#2db87a"/>
<rect x="494" y="169" width="1" height="28" fill="#b0152a"/>
<rect x="493" y="169" width="3" height="18" fill="#b0152a"/>
<rect x="494" y="170" width="1" height="16" fill="#ff2d45"/>
<rect x="497" y="179" width="1" height="14" fill="#b0152a"/>
<rect x="496" y="185" width="3" height="8" fill="#b0152a"/>
<rect x="497" y="186" width="1" height="6" fill="#ff2d45"/>
<rect x="500" y="187" width="1" height="29" fill="#b0152a"/>
<rect x="499" y="192" width="3" height="24" fill="#b0152a"/>
<rect x="500" y="193" width="1" height="22" fill="#ff2d45"/>
<rect x="503" y="202" width="1" height="16" fill="#0b7040"/>
<rect x="502" y="208" width="3" height="8" fill="#0b7040"/>
<rect x="503" y="209" width="1" height="6" fill="#2db87a"/>
<rect x="506" y="207" width="1" height="12" fill="#b0152a"/>
<rect x="505" y="208" width="3" height="7" fill="#b0152a"/>
<rect x="506" y="209" width="1" height="5" fill="#ff2d45"/>
<rect x="510" y="209" width="1" height="10" fill="#b0152a"/>
<rect x="509" y="212" width="3" height="7" fill="#b0152a"/>
<rect x="510" y="213" width="1" height="5" fill="#ff2d45"/>
<rect x="513" y="217" width="1" height="19" fill="#b0152a"/>
<rect x="512" y="217" width="3" height="19" fill="#b0152a"/>
<rect x="513" y="218" width="1" height="17" fill="#ff2d45"/>
<rect x="516" y="224" width="1" height="14" fill="#0b7040"/>
<rect x="515" y="230" width="3" height="7" fill="#0b7040"/>
<rect x="516" y="231" width="1" height="5" fill="#2db87a"/>
<rect x="519" y="222" width="1" height="15" fill="#0b7040"/>
<rect x="518" y="230" width="3" height="2" fill="#0b7040"/>
<rect x="522" y="223" width="1" height="16" fill="#b0152a"/>
<rect x="521" y="229" width="3" height="9" fill="#b0152a"/>
<rect x="522" y="230" width="1" height="7" fill="#ff2d45"/>
<rect x="525" y="224" width="1" height="13" fill="#0b7040"/>
<rect x="524" y="227" width="3" height="10" fill="#0b7040"/>
<rect x="525" y="228" width="1" height="8" fill="#2db87a"/>
<rect x="528" y="223" width="1" height="10" fill="#b0152a"/>
<rect x="527" y="227" width="3" height="6" fill="#b0152a"/>
<rect x="528" y="228" width="1" height="4" fill="#ff2d45"/>
<rect x="531" y="231" width="1" height="13" fill="#b0152a"/>
<rect x="530" y="231" width="3" height="12" fill="#b0152a"/>
<rect x="531" y="232" width="1" height="10" fill="#ff2d45"/>
<rect x="534" y="239" width="1" height="9" fill="#b0152a"/>
<rect x="533" y="241" width="3" height="7" fill="#b0152a"/>
<rect x="534" y="242" width="1" height="5" fill="#ff2d45"/>
<rect x="538" y="237" width="1" height="22" fill="#0b7040"/>
<rect x="537" y="243" width="3" height="16" fill="#0b7040"/>
<rect x="538" y="244" width="1" height="14" fill="#2db87a"/>
<rect x="541" y="237" width="1" height="8" fill="#0b7040"/>
<rect x="540" y="242" width="3" height="2" fill="#0b7040"/>
<rect x="544" y="241" width="1" height="27" fill="#b0152a"/>
<rect x="543" y="241" width="3" height="27" fill="#b0152a"/>
<rect x="544" y="242" width="1" height="25" fill="#ff2d45"/>
<rect x="547" y="263" width="1" height="7" fill="#b0152a"/>
<rect x="546" y="266" width="3" height="2" fill="#b0152a"/>
<rect x="550" y="266" width="1" height="9" fill="#b0152a"/>
<rect x="549" y="266" width="3" height="5" fill="#b0152a"/>
<rect x="550" y="267" width="1" height="3" fill="#ff2d45"/>
<rect x="553" y="265" width="1" height="11" fill="#0b7040"/>
<rect x="552" y="265" width="3" height="6" fill="#0b7040"/>
<rect x="553" y="266" width="1" height="4" fill="#2db87a"/>
<rect x="556" y="258" width="1" height="11" fill="#0b7040"/>
<rect x="555" y="258" width="3" height="9" fill="#0b7040"/>
<rect x="556" y="259" width="1" height="7" fill="#2db87a"/>
<rect x="559" y="258" width="1" height="6" fill="#b0152a"/>
<rect x="558" y="258" width="3" height="5" fill="#b0152a"/>
<rect x="559" y="259" width="1" height="3" fill="#ff2d45"/>
<rect x="562" y="260" width="1" height="12" fill="#b0152a"/>
<rect x="561" y="261" width="3" height="11" fill="#b0152a"/>
<rect x="562" y="262" width="1" height="9" fill="#ff2d45"/>
<rect x="565" y="250" width="1" height="22" fill="#0b7040"/>
<rect x="564" y="250" width="3" height="22" fill="#0b7040"/>
<rect x="565" y="251" width="1" height="20" fill="#2db87a"/>
<rect x="569" y="249" width="1" height="13" fill="#b0152a"/>
<rect x="568" y="249" width="3" height="8" fill="#b0152a"/>
<rect x="569" y="250" width="1" height="6" fill="#ff2d45"/>
<rect x="572" y="255" width="1" height="13" fill="#b0152a"/>
<rect x="571" y="255" width="3" height="5" fill="#b0152a"/>
<rect x="572" y="256" width="1" height="3" fill="#ff2d45"/>
<rect x="575" y="249" width="1" height="11" fill="#0b7040"/>
<rect x="574" y="252" width="3" height="8" fill="#0b7040"/>
<rect x="575" y="253" width="1" height="6" fill="#2db87a"/>
<rect x="578" y="248" width="1" height="7" fill="#0b7040"/>
<rect x="577" y="248" width="3" height="7" fill="#0b7040"/>
<rect x="578" y="249" width="1" height="5" fill="#2db87a"/>
<rect x="581" y="248" width="1" height="14" fill="#b0152a"/>
<rect x="580" y="250" width="3" height="8" fill="#b0152a"/>
<rect x="581" y="251" width="1" height="6" fill="#ff2d45"/>
<rect x="584" y="250" width="1" height="23" fill="#0b7040"/>
<rect x="583" y="255" width="3" height="4" fill="#0b7040"/>
<rect x="584" y="256" width="1" height="2" fill="#2db87a"/>
<rect x="587" y="232" width="1" height="25" fill="#0b7040"/>
<rect x="586" y="236" width="3" height="21" fill="#0b7040"/>
<rect x="587" y="237" width="1" height="19" fill="#2db87a"/>
<rect x="590" y="223" width="1" height="23" fill="#0b7040"/>
<rect x="589" y="231" width="3" height="6" fill="#0b7040"/>
<rect x="590" y="232" width="1" height="4" fill="#2db87a"/>
<rect x="593" y="224" width="1" height="20" fill="#0b7040"/>
<rect x="592" y="230" width="3" height="2" fill="#0b7040"/>
<rect x="597" y="218" width="1" height="16" fill="#0b7040"/>
<rect x="596" y="228" width="3" height="3" fill="#0b7040"/>
<rect x="597" y="229" width="1" height="1" fill="#2db87a"/>
<rect x="600" y="217" width="1" height="13" fill="#0b7040"/>
<rect x="599" y="224" width="3" height="6" fill="#0b7040"/>
<rect x="600" y="225" width="1" height="4" fill="#2db87a"/>
<rect x="603" y="216" width="1" height="11" fill="#0b7040"/>
<rect x="602" y="224" width="3" height="2" fill="#0b7040"/>
<rect x="606" y="220" width="1" height="6" fill="#0b7040"/>
<rect x="605" y="224" width="3" height="2" fill="#0b7040"/>
<rect x="609" y="216" width="1" height="9" fill="#0b7040"/>
<rect x="608" y="216" width="3" height="9" fill="#0b7040"/>
<rect x="609" y="217" width="1" height="7" fill="#2db87a"/>
<rect x="612" y="211" width="1" height="27" fill="#b0152a"/>
<rect x="611" y="211" width="3" height="7" fill="#b0152a"/>
<rect x="612" y="212" width="1" height="5" fill="#ff2d45"/>
<rect x="615" y="215" width="1" height="9" fill="#b0152a"/>
<rect x="614" y="216" width="3" height="8" fill="#b0152a"/>
<rect x="615" y="217" width="1" height="6" fill="#ff2d45"/>
<rect x="618" y="219" width="1" height="6" fill="#b0152a"/>
<rect x="617" y="222" width="3" height="3" fill="#b0152a"/>
<rect x="618" y="223" width="1" height="1" fill="#ff2d45"/>
<rect x="621" y="222" width="1" height="7" fill="#b0152a"/>
<rect x="620" y="222" width="3" height="4" fill="#b0152a"/>
<rect x="621" y="223" width="1" height="2" fill="#ff2d45"/>
<rect x="624" y="224" width="1" height="15" fill="#b0152a"/>
<rect x="623" y="224" width="3" height="14" fill="#b0152a"/>
<rect x="624" y="225" width="1" height="12" fill="#ff2d45"/>
<rect x="628" y="236" width="1" height="12" fill="#b0152a"/>
<rect x="627" y="236" width="3" height="11" fill="#b0152a"/>
<rect x="628" y="237" width="1" height="9" fill="#ff2d45"/>
<rect x="631" y="242" width="1" height="6" fill="#0b7040"/>
<rect x="630" y="242" width="3" height="5" fill="#0b7040"/>
<rect x="631" y="243" width="1" height="3" fill="#2db87a"/>
<rect x="634" y="239" width="1" height="6" fill="#0b7040"/>
<rect x="633" y="239" width="3" height="6" fill="#0b7040"/>
<rect x="634" y="240" width="1" height="4" fill="#2db87a"/>
<rect x="637" y="231" width="1" height="16" fill="#b0152a"/>
<rect x="636" y="239" width="3" height="8" fill="#b0152a"/>
<rect x="637" y="240" width="1" height="6" fill="#ff2d45"/>
<rect x="640" y="237" width="1" height="11" fill="#0b7040"/>
<rect x="639" y="238" width="3" height="9" fill="#0b7040"/>
<rect x="640" y="239" width="1" height="7" fill="#2db87a"/>
<rect x="643" y="238" width="1" height="18" fill="#b0152a"/>
<rect x="642" y="238" width="3" height="17" fill="#b0152a"/>
<rect x="643" y="239" width="1" height="15" fill="#ff2d45"/>
<rect x="646" y="247" width="1" height="14" fill="#b0152a"/>
<rect x="645" y="253" width="3" height="6" fill="#b0152a"/>
<rect x="646" y="254" width="1" height="4" fill="#ff2d45"/>
<rect x="649" y="242" width="1" height="19" fill="#0b7040"/>
<rect x="648" y="243" width="3" height="15" fill="#0b7040"/>
<rect x="649" y="244" width="1" height="13" fill="#2db87a"/>
<rect x="652" y="243" width="1" height="16" fill="#b0152a"/>
<rect x="651" y="245" width="3" height="10" fill="#b0152a"/>
<rect x="652" y="246" width="1" height="8" fill="#ff2d45"/>
<rect x="656" y="231" width="1" height="27" fill="#0b7040"/>
<rect x="655" y="232" width="3" height="22" fill="#0b7040"/>
<rect x="656" y="233" width="1" height="20" fill="#2db87a"/>
<rect x="659" y="229" width="1" height="18" fill="#b0152a"/>
<rect x="658" y="232" width="3" height="9" fill="#b0152a"/>
<rect x="659" y="233" width="1" height="7" fill="#ff2d45"/>
<rect x="662" y="239" width="1" height="19" fill="#b0152a"/>
<rect x="661" y="239" width="3" height="11" fill="#b0152a"/>
<rect x="662" y="240" width="1" height="9" fill="#ff2d45"/>
<rect x="665" y="236" width="1" height="17" fill="#0b7040"/>
<rect x="664" y="239" width="3" height="10" fill="#0b7040"/>
<rect x="665" y="240" width="1" height="8" fill="#2db87a"/>
<rect x="668" y="225" width="1" height="17" fill="#0b7040"/>
<rect x="667" y="228" width="3" height="13" fill="#0b7040"/>
<rect x="668" y="229" width="1" height="11" fill="#2db87a"/>
<rect x="671" y="218" width="1" height="12" fill="#0b7040"/>
<rect x="670" y="223" width="3" height="7" fill="#0b7040"/>
<rect x="671" y="224" width="1" height="5" fill="#2db87a"/>
<rect x="674" y="221" width="1" height="13" fill="#b0152a"/>
<rect x="673" y="223" width="3" height="11" fill="#b0152a"/>
<rect x="674" y="224" width="1" height="9" fill="#ff2d45"/>
<rect x="677" y="231" width="1" height="13" fill="#b0152a"/>
<rect x="676" y="232" width="3" height="12" fill="#b0152a"/>
<rect x="677" y="233" width="1" height="10" fill="#ff2d45"/>
<rect x="680" y="230" width="1" height="14" fill="#0b7040"/>
<rect x="679" y="232" width="3" height="12" fill="#0b7040"/>
<rect x="680" y="233" width="1" height="10" fill="#2db87a"/>
<rect x="683" y="231" width="1" height="23" fill="#b0152a"/>
<rect x="682" y="231" width="3" height="23" fill="#b0152a"/>
<rect x="683" y="232" width="1" height="21" fill="#ff2d45"/>
<rect x="687" y="241" width="1" height="26" fill="#0b7040"/>
<rect x="686" y="247" width="3" height="19" fill="#0b7040"/>
<rect x="687" y="248" width="1" height="17" fill="#2db87a"/>
<rect x="690" y="238" width="1" height="12" fill="#0b7040"/>
<rect x="689" y="241" width="3" height="9" fill="#0b7040"/>
<rect x="690" y="242" width="1" height="7" fill="#2db87a"/>
<rect x="693" y="237" width="1" height="16" fill="#b0152a"/>
<rect x="692" y="241" width="3" height="12" fill="#b0152a"/>
<rect x="693" y="242" width="1" height="10" fill="#ff2d45"/>
<rect x="696" y="240" width="1" height="12" fill="#0b7040"/>
<rect x="695" y="245" width="3" height="7" fill="#0b7040"/>
<rect x="696" y="246" width="1" height="5" fill="#2db87a"/>
<rect x="699" y="237" width="1" height="10" fill="#0b7040"/>
<rect x="698" y="239" width="3" height="8" fill="#0b7040"/>
<rect x="699" y="240" width="1" height="6" fill="#2db87a"/>
<rect x="702" y="231" width="1" height="10" fill="#0b7040"/>
<rect x="701" y="231" width="3" height="10" fill="#0b7040"/>
<rect x="702" y="232" width="1" height="8" fill="#2db87a"/>
<rect x="705" y="231" width="1" height="5" fill="#b0152a"/>
<rect x="704" y="231" width="3" height="5" fill="#b0152a"/>
<rect x="705" y="232" width="1" height="3" fill="#ff2d45"/>
<rect x="708" y="234" width="1" height="10" fill="#b0152a"/>
<rect x="707" y="234" width="3" height="5" fill="#b0152a"/>
<rect x="708" y="235" width="1" height="3" fill="#ff2d45"/>
<rect x="711" y="238" width="1" height="10" fill="#b0152a"/>
<rect x="710" y="238" width="3" height="7" fill="#b0152a"/>
<rect x="711" y="239" width="1" height="5" fill="#ff2d45"/>
<rect x="714" y="244" width="1" height="23" fill="#b0152a"/>
<rect x="713" y="244" width="3" height="23" fill="#b0152a"/>
<rect x="714" y="245" width="1" height="21" fill="#ff2d45"/>
<rect x="718" y="251" width="1" height="20" fill="#b0152a"/>
<rect x="717" y="263" width="3" height="6" fill="#b0152a"/>
<rect x="718" y="264" width="1" height="4" fill="#ff2d45"/>
<rect x="721" y="253" width="1" height="18" fill="#0b7040"/>
<rect x="720" y="254" width="3" height="15" fill="#0b7040"/>
<rect x="721" y="255" width="1" height="13" fill="#2db87a"/>
<rect x="724" y="219" width="1" height="36" fill="#0b7040"/>
<rect x="723" y="225" width="3" height="30" fill="#0b7040"/>
<rect x="724" y="226" width="1" height="28" fill="#2db87a"/>
<rect x="727" y="226" width="1" height="11" fill="#b0152a"/>
<rect x="726" y="226" width="3" height="7" fill="#b0152a"/>
<rect x="727" y="227" width="1" height="5" fill="#ff2d45"/>
<rect x="730" y="216" width="1" height="17" fill="#0b7040"/>
<rect x="729" y="222" width="3" height="11" fill="#0b7040"/>
<rect x="730" y="223" width="1" height="9" fill="#2db87a"/>
<rect x="733" y="203" width="1" height="22" fill="#0b7040"/>
<rect x="732" y="212" width="3" height="12" fill="#0b7040"/>
<rect x="733" y="213" width="1" height="10" fill="#2db87a"/>
<rect x="736" y="208" width="1" height="11" fill="#0b7040"/>
<rect x="735" y="210" width="3" height="4" fill="#0b7040"/>
<rect x="736" y="211" width="1" height="2" fill="#2db87a"/>
<rect x="739" y="209" width="1" height="26" fill="#b0152a"/>
<rect x="738" y="210" width="3" height="25" fill="#b0152a"/>
<rect x="739" y="211" width="1" height="23" fill="#ff2d45"/>
<rect x="742" y="223" width="1" height="11" fill="#0b7040"/>
<rect x="741" y="226" width="3" height="8" fill="#0b7040"/>
<rect x="742" y="227" width="1" height="6" fill="#2db87a"/>
<rect x="746" y="217" width="1" height="13" fill="#0b7040"/>
<rect x="745" y="222" width="3" height="6" fill="#0b7040"/>
<rect x="746" y="223" width="1" height="4" fill="#2db87a"/>
<rect x="749" y="216" width="1" height="10" fill="#0b7040"/>
<rect x="748" y="217" width="3" height="7" fill="#0b7040"/>
<rect x="749" y="218" width="1" height="5" fill="#2db87a"/>
<rect x="752" y="208" width="1" height="11" fill="#0b7040"/>
<rect x="751" y="209" width="3" height="10" fill="#0b7040"/>
<rect x="752" y="210" width="1" height="8" fill="#2db87a"/>
<rect x="755" y="204" width="1" height="10" fill="#b0152a"/>
<rect x="754" y="210" width="3" height="2" fill="#b0152a"/>
<rect x="758" y="208" width="1" height="8" fill="#b0152a"/>
<rect x="757" y="210" width="3" height="3" fill="#b0152a"/>
<rect x="758" y="211" width="1" height="1" fill="#ff2d45"/>
<rect x="761" y="206" width="1" height="23" fill="#b0152a"/>
<rect x="760" y="209" width="3" height="8" fill="#b0152a"/>
<rect x="761" y="210" width="1" height="6" fill="#ff2d45"/>
<rect x="764" y="209" width="1" height="5" fill="#0b7040"/>
<rect x="763" y="211" width="3" height="3" fill="#0b7040"/>
<rect x="764" y="212" width="1" height="1" fill="#2db87a"/>
<rect x="767" y="199" width="1" height="17" fill="#b0152a"/>
<rect x="766" y="211" width="3" height="4" fill="#b0152a"/>
<rect x="767" y="212" width="1" height="2" fill="#ff2d45"/>
<rect x="770" y="212" width="1" height="8" fill="#0b7040"/>
<rect x="769" y="212" width="3" height="4" fill="#0b7040"/>
<rect x="770" y="213" width="1" height="2" fill="#2db87a"/>
<rect x="773" y="211" width="1" height="9" fill="#b0152a"/>
<rect x="772" y="212" width="3" height="5" fill="#b0152a"/>
<rect x="773" y="213" width="1" height="3" fill="#ff2d45"/>
<rect x="777" y="214" width="1" height="10" fill="#b0152a"/>
<rect x="776" y="214" width="3" height="10" fill="#b0152a"/>
<rect x="777" y="215" width="1" height="8" fill="#ff2d45"/>
<rect x="780" y="219" width="1" height="5" fill="#0b7040"/>
<rect x="779" y="221" width="3" height="3" fill="#0b7040"/>
<rect x="780" y="222" width="1" height="1" fill="#2db87a"/>
<rect x="783" y="216" width="1" height="7" fill="#0b7040"/>
<rect x="782" y="220" width="3" height="2" fill="#0b7040"/>
<rect x="786" y="209" width="1" height="12" fill="#0b7040"/>
<rect x="785" y="209" width="3" height="12" fill="#0b7040"/>
<rect x="786" y="210" width="1" height="10" fill="#2db87a"/>
<rect x="789" y="205" width="1" height="19" fill="#b0152a"/>
<rect x="788" y="209" width="3" height="14" fill="#b0152a"/>
<rect x="789" y="210" width="1" height="12" fill="#ff2d45"/>
<rect x="792" y="221" width="1" height="14" fill="#b0152a"/>
<rect x="791" y="221" width="3" height="12" fill="#b0152a"/>
<rect x="792" y="222" width="1" height="10" fill="#ff2d45"/>
<rect x="795" y="228" width="1" height="21" fill="#b0152a"/>
<rect x="794" y="231" width="3" height="11" fill="#b0152a"/>
<rect x="795" y="232" width="1" height="9" fill="#ff2d45"/>
<rect x="798" y="239" width="1" height="11" fill="#b0152a"/>
<rect x="797" y="240" width="3" height="7" fill="#b0152a"/>
<rect x="798" y="241" width="1" height="5" fill="#ff2d45"/>
<rect x="801" y="232" width="1" height="15" fill="#0b7040"/>
<rect x="800" y="236" width="3" height="11" fill="#0b7040"/>
<rect x="801" y="237" width="1" height="9" fill="#2db87a"/>
<rect x="805" y="222" width="1" height="16" fill="#0b7040"/>
<rect x="804" y="224" width="3" height="13" fill="#0b7040"/>
<rect x="805" y="225" width="1" height="11" fill="#2db87a"/>
<rect x="808" y="217" width="1" height="22" fill="#b0152a"/>
<rect x="807" y="224" width="3" height="8" fill="#b0152a"/>
<rect x="808" y="225" width="1" height="6" fill="#ff2d45"/>
<rect x="811" y="221" width="1" height="19" fill="#0b7040"/>
<rect x="810" y="222" width="3" height="10" fill="#0b7040"/>
<rect x="811" y="223" width="1" height="8" fill="#2db87a"/>
<rect x="814" y="210" width="1" height="31" fill="#b0152a"/>
<rect x="813" y="221" width="3" height="17" fill="#b0152a"/>
<rect x="814" y="222" width="1" height="15" fill="#ff2d45"/>
<rect x="817" y="229" width="1" height="13" fill="#0b7040"/>
<rect x="816" y="233" width="3" height="4" fill="#0b7040"/>
<rect x="817" y="234" width="1" height="2" fill="#2db87a"/>
<rect x="820" y="226" width="1" height="14" fill="#b0152a"/>
<rect x="819" y="232" width="3" height="4" fill="#b0152a"/>
<rect x="820" y="233" width="1" height="2" fill="#ff2d45"/>
<rect x="823" y="232" width="1" height="11" fill="#b0152a"/>
<rect x="822" y="233" width="3" height="5" fill="#b0152a"/>
<rect x="823" y="234" width="1" height="3" fill="#ff2d45"/>
<rect x="826" y="235" width="1" height="8" fill="#b0152a"/>
<rect x="825" y="235" width="3" height="3" fill="#b0152a"/>
<rect x="826" y="236" width="1" height="1" fill="#ff2d45"/>
<rect x="829" y="228" width="1" height="11" fill="#0b7040"/>
<rect x="828" y="228" width="3" height="10" fill="#0b7040"/>
<rect x="829" y="229" width="1" height="8" fill="#2db87a"/>
<rect x="832" y="204" width="1" height="34" fill="#0b7040"/>
<rect x="831" y="226" width="3" height="10" fill="#0b7040"/>
<rect x="832" y="227" width="1" height="8" fill="#2db87a"/>
<rect x="836" y="207" width="1" height="25" fill="#0b7040"/>
<rect x="835" y="216" width="3" height="12" fill="#0b7040"/>
<rect x="836" y="217" width="1" height="10" fill="#2db87a"/>
<rect x="839" y="199" width="1" height="25" fill="#0b7040"/>
<rect x="838" y="199" width="3" height="19" fill="#0b7040"/>
<rect x="839" y="200" width="1" height="17" fill="#2db87a"/>
<rect x="842" y="193" width="1" height="16" fill="#b0152a"/>
<rect x="841" y="199" width="3" height="5" fill="#b0152a"/>
<rect x="842" y="200" width="1" height="3" fill="#ff2d45"/>
<rect x="845" y="197" width="1" height="8" fill="#b0152a"/>
<rect x="844" y="202" width="3" height="3" fill="#b0152a"/>
<rect x="845" y="203" width="1" height="1" fill="#ff2d45"/>
<rect x="848" y="192" width="1" height="16" fill="#0b7040"/>
<rect x="847" y="192" width="3" height="13" fill="#0b7040"/>
<rect x="848" y="193" width="1" height="11" fill="#2db87a"/>
<rect x="851" y="185" width="1" height="10" fill="#0b7040"/>
<rect x="850" y="187" width="3" height="7" fill="#0b7040"/>
<rect x="851" y="188" width="1" height="5" fill="#2db87a"/>
<rect x="854" y="187" width="1" height="12" fill="#b0152a"/>
<rect x="853" y="187" width="3" height="12" fill="#b0152a"/>
<rect x="854" y="188" width="1" height="10" fill="#ff2d45"/>
<rect x="857" y="197" width="1" height="10" fill="#b0152a"/>
<rect x="856" y="197" width="3" height="8" fill="#b0152a"/>
<rect x="857" y="198" width="1" height="6" fill="#ff2d45"/>
<rect x="860" y="185" width="1" height="19" fill="#0b7040"/>
<rect x="859" y="190" width="3" height="14" fill="#0b7040"/>
<rect x="860" y="191" width="1" height="12" fill="#2db87a"/>
<rect x="864" y="188" width="1" height="42" fill="#b0152a"/>
<rect x="863" y="188" width="3" height="41" fill="#b0152a"/>
<rect x="864" y="189" width="1" height="39" fill="#ff2d45"/>
<rect x="867" y="213" width="1" height="21" fill="#0b7040"/>
<rect x="866" y="224" width="3" height="5" fill="#0b7040"/>
<rect x="867" y="225" width="1" height="3" fill="#2db87a"/>
<rect x="870" y="221" width="1" height="15" fill="#b0152a"/>
<rect x="869" y="225" width="3" height="8" fill="#b0152a"/>
<rect x="870" y="226" width="1" height="6" fill="#ff2d45"/>
<rect x="873" y="220" width="1" height="12" fill="#0b7040"/>
<rect x="872" y="220" width="3" height="12" fill="#0b7040"/>
<rect x="873" y="221" width="1" height="10" fill="#2db87a"/>
<rect x="876" y="216" width="1" height="9" fill="#b0152a"/>
<rect x="875" y="220" width="3" height="3" fill="#b0152a"/>
<rect x="876" y="221" width="1" height="1" fill="#ff2d45"/>
<rect x="879" y="217" width="1" height="9" fill="#b0152a"/>
<rect x="878" y="220" width="3" height="4" fill="#b0152a"/>
<rect x="879" y="221" width="1" height="2" fill="#ff2d45"/>
<rect x="882" y="213" width="1" height="11" fill="#0b7040"/>
<rect x="881" y="217" width="3" height="7" fill="#0b7040"/>
<rect x="882" y="218" width="1" height="5" fill="#2db87a"/>
<rect x="885" y="216" width="1" height="21" fill="#b0152a"/>
<rect x="884" y="216" width="3" height="5" fill="#b0152a"/>
<rect x="885" y="217" width="1" height="3" fill="#ff2d45"/>
<rect x="888" y="220" width="1" height="11" fill="#b0152a"/>
<rect x="887" y="220" width="3" height="8" fill="#b0152a"/>
<rect x="888" y="221" width="1" height="6" fill="#ff2d45"/>
<rect x="891" y="223" width="1" height="9" fill="#0b7040"/>
<rect x="890" y="224" width="3" height="4" fill="#0b7040"/>
<rect x="891" y="225" width="1" height="2" fill="#2db87a"/>
<rect x="895" y="220" width="1" height="6" fill="#0b7040"/>
<rect x="894" y="222" width="3" height="4" fill="#0b7040"/>
<rect x="895" y="223" width="1" height="2" fill="#2db87a"/>
<rect x="898" y="218" width="1" height="5" fill="#0b7040"/>
<rect x="897" y="220" width="3" height="3" fill="#0b7040"/>
<rect x="898" y="221" width="1" height="1" fill="#2db87a"/>
<rect x="901" y="219" width="1" height="4" fill="#b0152a"/>
<rect x="900" y="220" width="3" height="3" fill="#b0152a"/>
<rect x="901" y="221" width="1" height="1" fill="#ff2d45"/>
<rect x="904" y="215" width="1" height="21" fill="#b0152a"/>
<rect x="903" y="219" width="3" height="17" fill="#b0152a"/>
<rect x="904" y="220" width="1" height="15" fill="#ff2d45"/>
<rect x="907" y="213" width="1" height="23" fill="#0b7040"/>
<rect x="906" y="221" width="3" height="13" fill="#0b7040"/>
<rect x="907" y="222" width="1" height="11" fill="#2db87a"/>
<rect x="910" y="212" width="1" height="11" fill="#0b7040"/>
<rect x="909" y="216" width="3" height="7" fill="#0b7040"/>
<rect x="910" y="217" width="1" height="5" fill="#2db87a"/>
<rect x="913" y="213" width="1" height="7" fill="#0b7040"/>
<rect x="912" y="213" width="3" height="4" fill="#0b7040"/>
<rect x="913" y="214" width="1" height="2" fill="#2db87a"/>
<rect x="916" y="211" width="1" height="7" fill="#b0152a"/>
<rect x="915" y="213" width="3" height="4" fill="#b0152a"/>
<rect x="916" y="214" width="1" height="2" fill="#ff2d45"/>
<rect x="919" y="214" width="1" height="6" fill="#0b7040"/>
<rect x="918" y="214" width="3" height="3" fill="#0b7040"/>
<rect x="919" y="215" width="1" height="1" fill="#2db87a"/>
<rect x="923" y="209" width="1" height="9" fill="#0b7040"/>
<rect x="922" y="209" width="3" height="7" fill="#0b7040"/>
<rect x="923" y="210" width="1" height="5" fill="#2db87a"/>
<rect x="926" y="201" width="1" height="14" fill="#0b7040"/>
<rect x="925" y="201" width="3" height="9" fill="#0b7040"/>
<rect x="926" y="202" width="1" height="7" fill="#2db87a"/>
<rect x="929" y="201" width="1" height="9" fill="#b0152a"/>
<rect x="928" y="201" width="3" height="7" fill="#b0152a"/>
<rect x="929" y="202" width="1" height="5" fill="#ff2d45"/>
<rect x="932" y="185" width="1" height="24" fill="#0b7040"/>
<rect x="931" y="187" width="3" height="22" fill="#0b7040"/>
<rect x="932" y="188" width="1" height="20" fill="#2db87a"/>
<rect x="935" y="177" width="1" height="12" fill="#0b7040"/>
<rect x="934" y="184" width="3" height="5" fill="#0b7040"/>
<rect x="935" y="185" width="1" height="3" fill="#2db87a"/>
<polyline points="4,49 10,49 16,49.1 30,50.5 50,53 70,55.8 90,58.8 100,60.8 110,62.7 120,65 130,67.2 138,69.4 150,75 160,81 170,86.6 180,92.6 190,98 200,103 210,108 220,112.4 230,116.6 240,121 250,125 260,129 270,133.2 280,136.6 290,139.6 300,143 310,145.2 320,147.4 330,149.2 340,150.8 350,151.5 360,152 370,152.8 380,155 390,156.6 400,158 410,159.6 420,161 430,162 440,163 450,164.4 460,165.3 470,166.2 480,167 490,167.1 500,167.2 510,168.6 520,170.4 530,172.2 540,174.6 550,177.2 560,179.7 570,181.8 580,184 590,185.6 600,186.8 610,188 620,189.1 630,190.5 640,192 650,193.2 660,194.2 670,195.3 680,196.5 690,198 700,199.3 710,200.6 720,201.6 730,202.4 740,202.8 750,203 760,203 770,203 780,203.3 790,204.2 800,204.8 810,205.3 820,205.5 830,205.6 840,205.6 855,205.6 858,204.9 873,204.9 876,205.7 899,205.9 903,207 936,207" fill="none" stroke="#e22424" stroke-width="2" stroke-linejoin="round" stroke-linecap="butt"/>
<rect x="3" y="361" width="3" height="2" fill="#0b7bc4"/>
<rect x="6" y="361" width="3" height="2" fill="#0b7bc4"/>
<rect x="12" y="363" width="3" height="2" fill="#cc0000"/>
<rect x="15" y="363" width="3" height="2" fill="#cc0000"/>
<rect x="18" y="363" width="3" height="4" fill="#cc0000"/>
<rect x="21" y="363" width="3" height="4" fill="#cc0000"/>
<rect x="24" y="363" width="3" height="5" fill="#cc0000"/>
<rect x="27" y="363" width="3" height="4" fill="#cc0000"/>
<rect x="30" y="363" width="3" height="4" fill="#cc0000"/>
<rect x="34" y="363" width="3" height="2" fill="#cc0000"/>
<rect x="37" y="363" width="3" height="2" fill="#cc0000"/>
<rect x="40" y="363" width="3" height="2" fill="#cc0000"/>
<rect x="43" y="363" width="3" height="2" fill="#cc0000"/>
<rect x="46" y="363" width="3" height="3" fill="#cc0000"/>
<rect x="49" y="363" width="3" height="3" fill="#cc0000"/>
<rect x="52" y="363" width="3" height="4" fill="#cc0000"/>
<rect x="55" y="363" width="3" height="4" fill="#cc0000"/>
<rect x="58" y="363" width="3" height="4" fill="#cc0000"/>
<rect x="62" y="363" width="3" height="3" fill="#cc0000"/>
<rect x="65" y="363" width="3" height="1" fill="#cc0000"/>
<rect x="68" y="363" width="3" height="1" fill="#cc0000"/>
<rect x="71" y="363" width="3" height="1" fill="#cc0000"/>
<rect x="74" y="363" width="3" height="4" fill="#cc0000"/>
<rect x="77" y="363" width="3" height="4" fill="#cc0000"/>
<rect x="80" y="363" width="3" height="4" fill="#cc0000"/>
<rect x="83" y="363" width="3" height="4" fill="#cc0000"/>
<rect x="86" y="363" width="3" height="1" fill="#cc0000"/>
<rect x="89" y="363" width="3" height="1" fill="#cc0000"/>
<rect x="93" y="363" width="3" height="1" fill="#cc0000"/>
<rect x="96" y="363" width="3" height="1" fill="#cc0000"/>
<rect x="99" y="363" width="3" height="1" fill="#cc0000"/>
<rect x="102" y="363" width="3" height="1" fill="#cc0000"/>
<rect x="105" y="363" width="3" height="1" fill="#cc0000"/>
<rect x="108" y="363" width="3" height="1" fill="#cc0000"/>
<rect x="111" y="363" width="3" height="1" fill="#cc0000"/>
<rect x="114" y="363" width="3" height="1" fill="#cc0000"/>
<rect x="117" y="363" width="3" height="1" fill="#cc0000"/>
<rect x="127" y="363" width="3" height="2" fill="#cc0000"/>
<rect x="130" y="363" width="3" height="4" fill="#cc0000"/>
<rect x="133" y="363" width="3" height="7" fill="#cc0000"/>
<rect x="136" y="363" width="3" height="10" fill="#cc0000"/>
<rect x="139" y="363" width="3" height="10" fill="#cc0000"/>
<rect x="142" y="363" width="3" height="10" fill="#cc0000"/>
<rect x="145" y="363" width="3" height="10" fill="#cc0000"/>
<rect x="148" y="363" width="3" height="10" fill="#cc0000"/>
<rect x="152" y="363" width="3" height="10" fill="#cc0000"/>
<rect x="155" y="363" width="3" height="10" fill="#cc0000"/>
<rect x="158" y="363" width="3" height="10" fill="#cc0000"/>
<rect x="161" y="363" width="3" height="8" fill="#cc0000"/>
<rect x="164" y="363" width="3" height="4" fill="#cc0000"/>
<rect x="167" y="363" width="3" height="3" fill="#cc0000"/>
<rect x="170" y="363" width="3" height="2" fill="#cc0000"/>
<rect x="173" y="363" width="3" height="1" fill="#cc0000"/>
<rect x="176" y="362" width="3" height="1" fill="#0b7bc4"/>
<rect x="179" y="361" width="3" height="2" fill="#0b7bc4"/>
<rect x="183" y="360" width="3" height="3" fill="#0b7bc4"/>
<rect x="186" y="359" width="3" height="4" fill="#0b7bc4"/>
<rect x="189" y="358" width="3" height="5" fill="#0b7bc4"/>
<rect x="192" y="357" width="3" height="6" fill="#0b7bc4"/>
<rect x="195" y="357" width="3" height="6" fill="#0b7bc4"/>
<rect x="198" y="357" width="3" height="6" fill="#0b7bc4"/>
<rect x="201" y="358" width="3" height="5" fill="#0b7bc4"/>
<rect x="204" y="358" width="3" height="5" fill="#0b7bc4"/>
<rect x="207" y="357" width="3" height="6" fill="#0b7bc4"/>
<rect x="211" y="356" width="3" height="7" fill="#0b7bc4"/>
<rect x="214" y="356" width="3" height="7" fill="#0b7bc4"/>
<rect x="217" y="356" width="3" height="7" fill="#0b7bc4"/>
<rect x="220" y="356" width="3" height="7" fill="#0b7bc4"/>
<rect x="223" y="356" width="3" height="7" fill="#0b7bc4"/>
<rect x="226" y="356" width="3" height="7" fill="#0b7bc4"/>
<rect x="229" y="356" width="3" height="7" fill="#0b7bc4"/>
<rect x="232" y="357" width="3" height="6" fill="#0b7bc4"/>
<rect x="235" y="358" width="3" height="5" fill="#0b7bc4"/>
<rect x="238" y="359" width="3" height="4" fill="#0b7bc4"/>
<rect x="242" y="360" width="3" height="3" fill="#0b7bc4"/>
<rect x="245" y="360" width="3" height="3" fill="#0b7bc4"/>
<rect x="248" y="361" width="3" height="2" fill="#0b7bc4"/>
<rect x="251" y="361" width="3" height="2" fill="#0b7bc4"/>
<rect x="254" y="361" width="3" height="2" fill="#0b7bc4"/>
<rect x="257" y="361" width="3" height="2" fill="#0b7bc4"/>
<rect x="260" y="361" width="3" height="2" fill="#0b7bc4"/>
<rect x="263" y="361" width="3" height="2" fill="#0b7bc4"/>
<rect x="266" y="362" width="3" height="1" fill="#0b7bc4"/>
<rect x="270" y="362" width="3" height="1" fill="#0b7bc4"/>
<rect x="273" y="362" width="3" height="1" fill="#0b7bc4"/>
<rect x="276" y="362" width="3" height="1" fill="#0b7bc4"/>
<rect x="279" y="362" width="3" height="1" fill="#0b7bc4"/>
<rect x="282" y="362" width="3" height="1" fill="#0b7bc4"/>
<rect x="285" y="361" width="3" height="2" fill="#0b7bc4"/>
<rect x="288" y="360" width="3" height="3" fill="#0b7bc4"/>
<rect x="291" y="359" width="3" height="4" fill="#0b7bc4"/>
<rect x="294" y="357" width="3" height="6" fill="#0b7bc4"/>
<rect x="297" y="356" width="3" height="7" fill="#0b7bc4"/>
<rect x="301" y="355" width="3" height="8" fill="#0b7bc4"/>
<rect x="304" y="355" width="3" height="8" fill="#0b7bc4"/>
<rect x="307" y="355" width="3" height="8" fill="#0b7bc4"/>
<rect x="310" y="356" width="3" height="7" fill="#0b7bc4"/>
<rect x="313" y="358" width="3" height="5" fill="#0b7bc4"/>
<rect x="316" y="359" width="3" height="4" fill="#0b7bc4"/>
<rect x="319" y="359" width="3" height="4" fill="#0b7bc4"/>
<rect x="322" y="360" width="3" height="3" fill="#0b7bc4"/>
<rect x="325" y="361" width="3" height="2" fill="#0b7bc4"/>
<rect x="329" y="362" width="3" height="1" fill="#0b7bc4"/>
<rect x="332" y="362" width="3" height="1" fill="#0b7bc4"/>
<rect x="335" y="362" width="3" height="1" fill="#0b7bc4"/>
<rect x="338" y="362" width="3" height="1" fill="#0b7bc4"/>
<rect x="341" y="362" width="3" height="1" fill="#0b7bc4"/>
<rect x="344" y="362" width="3" height="1" fill="#0b7bc4"/>
<rect x="347" y="361" width="3" height="2" fill="#0b7bc4"/>
<rect x="350" y="360" width="3" height="3" fill="#0b7bc4"/>
<rect x="353" y="360" width="3" height="3" fill="#0b7bc4"/>
<rect x="356" y="361" width="3" height="2" fill="#0b7bc4"/>
<rect x="360" y="362" width="3" height="1" fill="#0b7bc4"/>
<rect x="363" y="362" width="3" height="1" fill="#0b7bc4"/>
<rect x="369" y="363" width="3" height="2" fill="#cc0000"/>
<rect x="372" y="363" width="3" height="4" fill="#cc0000"/>
<rect x="375" y="363" width="3" height="6" fill="#cc0000"/>
<rect x="378" y="363" width="3" height="6" fill="#cc0000"/>
<rect x="381" y="363" width="3" height="6" fill="#cc0000"/>
<rect x="384" y="363" width="3" height="6" fill="#cc0000"/>
<rect x="388" y="363" width="3" height="6" fill="#cc0000"/>
<rect x="391" y="363" width="3" height="4" fill="#cc0000"/>
<rect x="394" y="363" width="3" height="3" fill="#cc0000"/>
<rect x="397" y="363" width="3" height="3" fill="#cc0000"/>
<rect x="400" y="363" width="3" height="2" fill="#cc0000"/>
<rect x="403" y="363" width="3" height="2" fill="#cc0000"/>
<rect x="406" y="363" width="3" height="2" fill="#cc0000"/>
<rect x="409" y="363" width="3" height="2" fill="#cc0000"/>
<rect x="412" y="363" width="3" height="1" fill="#cc0000"/>
<rect x="415" y="363" width="3" height="1" fill="#cc0000"/>
<rect x="419" y="363" width="3" height="1" fill="#cc0000"/>
<rect x="425" y="361" width="3" height="2" fill="#0b7bc4"/>
<rect x="428" y="360" width="3" height="3" fill="#0b7bc4"/>
<rect x="431" y="361" width="3" height="2" fill="#0b7bc4"/>
<rect x="434" y="362" width="3" height="1" fill="#0b7bc4"/>
<rect x="437" y="363" width="3" height="2" fill="#cc0000"/>
<rect x="440" y="363" width="3" height="3" fill="#cc0000"/>
<rect x="443" y="363" width="3" height="3" fill="#cc0000"/>
<rect x="446" y="363" width="3" height="3" fill="#cc0000"/>
<rect x="450" y="363" width="3" height="3" fill="#cc0000"/>
<rect x="456" y="362" width="3" height="1" fill="#0b7bc4"/>
<rect x="459" y="362" width="3" height="1" fill="#0b7bc4"/>
<rect x="462" y="362" width="3" height="1" fill="#0b7bc4"/>
<rect x="465" y="362" width="3" height="1" fill="#0b7bc4"/>
<rect x="468" y="362" width="3" height="1" fill="#0b7bc4"/>
<rect x="471" y="362" width="3" height="1" fill="#0b7bc4"/>
<rect x="474" y="362" width="3" height="1" fill="#0b7bc4"/>
<rect x="478" y="362" width="3" height="1" fill="#0b7bc4"/>
<rect x="481" y="361" width="3" height="2" fill="#0b7bc4"/>
<rect x="484" y="360" width="3" height="3" fill="#0b7bc4"/>
<rect x="487" y="361" width="3" height="2" fill="#0b7bc4"/>
<rect x="490" y="361" width="3" height="2" fill="#0b7bc4"/>
<rect x="493" y="361" width="3" height="2" fill="#0b7bc4"/>
<rect x="499" y="363" width="3" height="2" fill="#cc0000"/>
<rect x="502" y="363" width="3" height="3" fill="#cc0000"/>
<rect x="505" y="363" width="3" height="4" fill="#cc0000"/>
<rect x="509" y="363" width="3" height="5" fill="#cc0000"/>
<rect x="512" y="363" width="3" height="6" fill="#cc0000"/>
<rect x="515" y="363" width="3" height="6" fill="#cc0000"/>
<rect x="518" y="363" width="3" height="6" fill="#cc0000"/>
<rect x="521" y="363" width="3" height="6" fill="#cc0000"/>
<rect x="524" y="363" width="3" height="6" fill="#cc0000"/>
<rect x="527" y="363" width="3" height="4" fill="#cc0000"/>
<rect x="530" y="363" width="3" height="4" fill="#cc0000"/>
<rect x="533" y="363" width="3" height="4" fill="#cc0000"/>
<rect x="537" y="363" width="3" height="3" fill="#cc0000"/>
<rect x="540" y="363" width="3" height="3" fill="#cc0000"/>
<rect x="543" y="363" width="3" height="3" fill="#cc0000"/>
<rect x="546" y="363" width="3" height="5" fill="#cc0000"/>
<rect x="549" y="363" width="3" height="5" fill="#cc0000"/>
<rect x="552" y="363" width="3" height="5" fill="#cc0000"/>
<rect x="555" y="363" width="3" height="5" fill="#cc0000"/>
<rect x="558" y="363" width="3" height="3" fill="#cc0000"/>
<rect x="561" y="363" width="3" height="2" fill="#cc0000"/>
<rect x="568" y="362" width="3" height="1" fill="#0b7bc4"/>
<rect x="571" y="362" width="3" height="1" fill="#0b7bc4"/>
<rect x="574" y="361" width="3" height="2" fill="#0b7bc4"/>
<rect x="577" y="360" width="3" height="3" fill="#0b7bc4"/>
<rect x="580" y="359" width="3" height="4" fill="#0b7bc4"/>
<rect x="583" y="359" width="3" height="4" fill="#0b7bc4"/>
<rect x="586" y="359" width="3" height="4" fill="#0b7bc4"/>
<rect x="589" y="358" width="3" height="5" fill="#0b7bc4"/>
<rect x="592" y="357" width="3" height="6" fill="#0b7bc4"/>
<rect x="596" y="356" width="3" height="7" fill="#0b7bc4"/>
<rect x="599" y="356" width="3" height="7" fill="#0b7bc4"/>
<rect x="602" y="356" width="3" height="7" fill="#0b7bc4"/>
<rect x="605" y="356" width="3" height="7" fill="#0b7bc4"/>
<rect x="608" y="357" width="3" height="6" fill="#0b7bc4"/>
<rect x="611" y="358" width="3" height="5" fill="#0b7bc4"/>
<rect x="614" y="359" width="3" height="4" fill="#0b7bc4"/>
<rect x="617" y="360" width="3" height="3" fill="#0b7bc4"/>
<rect x="620" y="361" width="3" height="2" fill="#0b7bc4"/>
<rect x="627" y="363" width="3" height="2" fill="#cc0000"/>
<rect x="630" y="363" width="3" height="2" fill="#cc0000"/>
<rect x="633" y="363" width="3" height="3" fill="#cc0000"/>
<rect x="636" y="363" width="3" height="3" fill="#cc0000"/>
<rect x="639" y="363" width="3" height="3" fill="#cc0000"/>
<rect x="642" y="363" width="3" height="3" fill="#cc0000"/>
<rect x="645" y="363" width="3" height="3" fill="#cc0000"/>
<rect x="648" y="363" width="3" height="3" fill="#cc0000"/>
<rect x="651" y="363" width="3" height="3" fill="#cc0000"/>
<rect x="655" y="363" width="3" height="1" fill="#cc0000"/>
<rect x="664" y="362" width="3" height="1" fill="#0b7bc4"/>
<rect x="667" y="361" width="3" height="2" fill="#0b7bc4"/>
<rect x="670" y="360" width="3" height="3" fill="#0b7bc4"/>
<rect x="673" y="360" width="3" height="3" fill="#0b7bc4"/>
<rect x="676" y="361" width="3" height="2" fill="#0b7bc4"/>
<rect x="679" y="361" width="3" height="2" fill="#0b7bc4"/>
<rect x="682" y="363" width="3" height="1" fill="#cc0000"/>
<rect x="686" y="363" width="3" height="1" fill="#cc0000"/>
<rect x="689" y="363" width="3" height="1" fill="#cc0000"/>
<rect x="692" y="363" width="3" height="1" fill="#cc0000"/>
<rect x="695" y="363" width="3" height="1" fill="#cc0000"/>
<rect x="698" y="363" width="3" height="1" fill="#cc0000"/>
<rect x="701" y="362" width="3" height="1" fill="#0b7bc4"/>
<rect x="704" y="362" width="3" height="1" fill="#0b7bc4"/>
<rect x="707" y="362" width="3" height="1" fill="#0b7bc4"/>
<rect x="710" y="362" width="3" height="1" fill="#0b7bc4"/>
<rect x="713" y="363" width="3" height="2" fill="#cc0000"/>
<rect x="717" y="363" width="3" height="2" fill="#cc0000"/>
<rect x="720" y="363" width="3" height="2" fill="#cc0000"/>
<rect x="726" y="361" width="3" height="2" fill="#0b7bc4"/>
<rect x="729" y="360" width="3" height="3" fill="#0b7bc4"/>
<rect x="732" y="358" width="3" height="5" fill="#0b7bc4"/>
<rect x="735" y="357" width="3" height="6" fill="#0b7bc4"/>
<rect x="738" y="357" width="3" height="6" fill="#0b7bc4"/>
<rect x="741" y="358" width="3" height="5" fill="#0b7bc4"/>
<rect x="745" y="360" width="3" height="3" fill="#0b7bc4"/>
<rect x="748" y="361" width="3" height="2" fill="#0b7bc4"/>
<rect x="751" y="361" width="3" height="2" fill="#0b7bc4"/>
<rect x="754" y="361" width="3" height="2" fill="#0b7bc4"/>
<rect x="757" y="361" width="3" height="2" fill="#0b7bc4"/>
<rect x="760" y="361" width="3" height="2" fill="#0b7bc4"/>
<rect x="763" y="361" width="3" height="2" fill="#0b7bc4"/>
<rect x="766" y="362" width="3" height="1" fill="#0b7bc4"/>
<rect x="769" y="362" width="3" height="1" fill="#0b7bc4"/>
<rect x="776" y="363" width="3" height="1" fill="#cc0000"/>
<rect x="779" y="363" width="3" height="1" fill="#cc0000"/>
<rect x="782" y="363" width="3" height="1" fill="#cc0000"/>
<rect x="785" y="363" width="3" height="1" fill="#cc0000"/>
<rect x="788" y="363" width="3" height="1" fill="#cc0000"/>
<rect x="791" y="363" width="3" height="3" fill="#cc0000"/>
<rect x="794" y="363" width="3" height="4" fill="#cc0000"/>
<rect x="797" y="363" width="3" height="4" fill="#cc0000"/>
<rect x="800" y="363" width="3" height="4" fill="#cc0000"/>
<rect x="804" y="363" width="3" height="4" fill="#cc0000"/>
<rect x="807" y="363" width="3" height="2" fill="#cc0000"/>
<rect x="810" y="363" width="3" height="1" fill="#cc0000"/>
<rect x="813" y="363" width="3" height="1" fill="#cc0000"/>
<rect x="816" y="363" width="3" height="1" fill="#cc0000"/>
<rect x="819" y="363" width="3" height="1" fill="#cc0000"/>
<rect x="822" y="363" width="3" height="1" fill="#cc0000"/>
<rect x="825" y="363" width="3" height="1" fill="#cc0000"/>
<rect x="828" y="363" width="3" height="1" fill="#cc0000"/>
<rect x="835" y="361" width="3" height="2" fill="#0b7bc4"/>
<rect x="838" y="360" width="3" height="3" fill="#0b7bc4"/>
<rect x="841" y="359" width="3" height="4" fill="#0b7bc4"/>
<rect x="844" y="358" width="3" height="5" fill="#0b7bc4"/>
<rect x="847" y="358" width="3" height="5" fill="#0b7bc4"/>
<rect x="850" y="357" width="3" height="6" fill="#0b7bc4"/>
<rect x="853" y="357" width="3" height="6" fill="#0b7bc4"/>
<rect x="856" y="359" width="3" height="4" fill="#0b7bc4"/>
<rect x="859" y="359" width="3" height="4" fill="#0b7bc4"/>
<rect x="866" y="363" width="3" height="2" fill="#cc0000"/>
<rect x="869" y="363" width="3" height="2" fill="#cc0000"/>
<rect x="872" y="363" width="3" height="4" fill="#cc0000"/>
<rect x="875" y="363" width="3" height="4" fill="#cc0000"/>
<rect x="878" y="363" width="3" height="3" fill="#cc0000"/>
<rect x="881" y="363" width="3" height="3" fill="#cc0000"/>
<rect x="884" y="363" width="3" height="2" fill="#cc0000"/>
<rect x="887" y="363" width="3" height="2" fill="#cc0000"/>
<rect x="890" y="363" width="3" height="1" fill="#cc0000"/>
<rect x="894" y="363" width="3" height="1" fill="#cc0000"/>
<rect x="897" y="363" width="3" height="1" fill="#cc0000"/>
<rect x="912" y="362" width="3" height="1" fill="#0b7bc4"/>
<rect x="915" y="362" width="3" height="1" fill="#0b7bc4"/>
<rect x="918" y="362" width="3" height="1" fill="#0b7bc4"/>
<rect x="922" y="362" width="3" height="1" fill="#0b7bc4"/>
<rect x="925" y="361" width="3" height="2" fill="#0b7bc4"/>
<rect x="928" y="361" width="3" height="2" fill="#0b7bc4"/>
<rect x="931" y="359" width="3" height="4" fill="#0b7bc4"/>
<rect x="934" y="359" width="3" height="4" fill="#0b7bc4"/>
<polyline points="4,352 10,353 20,358 30,362.6 40,364.6 50,367 60,371 64,369.6 70,373 76,375.6 84,376 90,375 96,377.4 104,378 114,381 120,380.6 125,380 130,386 136,394 144,401 152,410 160,416 170,418 176,417 184,413 192,408.6 200,404.8 210,397 220,389 230,384 240,380.6 250,377.4 260,375.6 270,373 280,371 290,367 300,359 308,351 320,348.6 330,346.6 340,346 346,345 352,342 364,341 370,344 376,350 384,356 392,359 400,360.3 410,361.6 420,361.6 428,357.4 433,356.6 438,360.6 446,362 456,361.6 466,360.6 476,357.4 486,355 493,352.6 498,354 504,358.6 512,364 520,370 530,374 540,377.6 548,383 556,385.6 564,385.4 572,382 580,379.4 588,376 594,370.6 600,366 606,361 614,358 622,358 630,361 640,363.6 652,367.6 660,366 670,364 680,362.6 690,365 696,366 704,364 712,363.6 720,368.6 723,368 730,363 740,359 750,355 758,352.4 768,351.6 776,353.4 786,355.3 794,358.6 800,362 806,362.6 816,363.6 827,366 834,364 840,360 846,356 852,351.6 860,351 864,353.4 870,357 878,360 888,361.4 896,362.6 906,365 914,363 922,361 928,359 936,355" fill="none" stroke="#2790d8" stroke-width="1.25" stroke-linejoin="round" opacity="0.95"/>
<polyline points="4,354 10,352.6 20,354 30,359 40,363 50,365.4 60,368 70,370.6 80,373 90,375 100,376.6 110,378 120,380 126,380.6 132,382.6 138,385 144,391 152,401 160,410 168,415 174,417 180,416.6 188,414 196,411 200,410 210,404 220,397 230,390 240,384 250,380.6 260,377.4 270,375 280,373 290,370 300,364 308,358 316,353 324,350 332,348 340,347 350,345.4 360,343 366,341.6 374,342.6 380,346 388,351 396,356 400,357.5 410,361 420,362 430,360.6 440,359.4 450,360.6 460,362.6 470,361 480,358.6 490,356.6 500,354.4 508,355.6 516,360 524,365 532,371 540,375 550,379 560,384 566,385 576,384 584,381.4 592,378 600,372.5 608,368 616,362 624,359 632,359 640,360.6 648,364 660,367 668,367 680,364 690,364.6 700,365.4 710,365 720,366 728,366 736,364 744,360.6 752,357.4 760,355 770,352.6 780,353 790,354 800,357.2 810,361 820,363.4 830,365 838,364 846,361 854,357 862,353 870,353 878,356 886,359 894,361.4 902,363 910,364 920,363 928,362 936,360" fill="none" stroke="#dc2424" stroke-width="1.25" stroke-linejoin="round" opacity="0.95"/>
<polygon points="94,16.4 100.8,16.4 97.4,19.6" fill="#7a7a7a"/>
<polygon points="170.2,17.2 177,17.2 173.6,20.4" fill="#7a7a7a"/>
<rect x="6" y="241.1" width="9.3" height="1.4" fill="#b4b4b4"/>
<rect x="6" y="242.5" width="9.8" height="4.4" fill="#b4b4b4"/>
<rect x="11.2" y="244.5" width="3.8" height="1.1" fill="#f2f2f2"/>
<rect x="6" y="248.29999999999998" width="9.8" height="1.6" fill="#b4b4b4"/>
<path d="M21.0,243.1 L26.799999999999997,248.9 M26.799999999999997,243.1 L21.0,248.9" stroke="#adadad" stroke-width="2.7" fill="none"/>
<rect x="6" y="255.1" width="9.3" height="1.4" fill="#b4b4b4"/>
<rect x="6" y="256.5" width="9.8" height="4.4" fill="#b4b4b4"/>
<rect x="11.2" y="258.5" width="3.8" height="1.1" fill="#f2f2f2"/>
<rect x="6" y="262.3" width="9.8" height="1.6" fill="#b4b4b4"/>
<path d="M21.0,257.1 L26.799999999999997,262.9 M26.799999999999997,257.1 L21.0,262.9" stroke="#adadad" stroke-width="2.7" fill="none"/>
<rect x="6" y="269.3" width="9.3" height="1.4" fill="#b4b4b4"/>
<rect x="6" y="270.7" width="9.8" height="4.4" fill="#b4b4b4"/>
<rect x="11.2" y="272.7" width="3.8" height="1.1" fill="#f2f2f2"/>
<rect x="6" y="276.5" width="9.8" height="1.6" fill="#b4b4b4"/>
<path d="M21.0,271.3 L26.799999999999997,277.09999999999997 M26.799999999999997,271.3 L21.0,277.09999999999997" stroke="#adadad" stroke-width="2.7" fill="none"/>
<rect x="6" y="283.1" width="9.3" height="1.4" fill="#b4b4b4"/>
<rect x="6" y="284.5" width="9.8" height="4.4" fill="#b4b4b4"/>
<rect x="11.2" y="286.5" width="3.8" height="1.1" fill="#f2f2f2"/>
<rect x="6" y="290.3" width="9.8" height="1.6" fill="#b4b4b4"/>
<path d="M21.0,285.1 L26.799999999999997,290.9 M26.799999999999997,285.1 L21.0,290.9" stroke="#adadad" stroke-width="2.7" fill="none"/>
<rect x="6" y="411.1" width="9.3" height="1.4" fill="#b4b4b4"/>
<rect x="6" y="412.5" width="9.8" height="4.4" fill="#b4b4b4"/>
<rect x="11.2" y="414.5" width="3.8" height="1.1" fill="#f2f2f2"/>
<rect x="6" y="418.3" width="9.8" height="1.6" fill="#b4b4b4"/>
<path d="M21.0,413.1 L26.799999999999997,418.9 M26.799999999999997,413.1 L21.0,418.9" stroke="#adadad" stroke-width="2.7" fill="none"/>
</svg>
<div class="t" style="left:20px;top:15.4px;font-size:11.2px;font-weight:bold;color:#3a4953;letter-spacing:-0.35px">EURGBP</div>
<div class="t" style="left:69.9px;top:15.9px;font-size:7.4px;color:#6a7680;-webkit-text-stroke:0.25px #6a7680;">CFD</div>
<div class="t" style="left:141.1px;top:15.4px;font-size:10.3px;color:#4a5963;letter-spacing:-0.7px">H1</div>
<div class="t ax" style="top:47.6px">0.87341</div>
<div class="t ax" style="top:83.6px">0.87209</div>
<div class="t ax" style="top:118.6px">0.87077</div>
<div class="t ax" style="top:154.6px">0.86945</div>
<div class="t ax" style="top:189.6px">0.86812</div>
<div class="t ax" style="top:224.6px">0.86680</div>
<div class="t ax" style="top:259.6px">0.86548</div>
<div class="t ax" style="top:290.6px;height:9.9px;overflow:hidden">0.86416</div>
<div class="t ax" style="top:302.8px">0.00160</div>
<div class="t ax" style="top:325.9px">0.00080</div>
<div class="t ax" style="top:357.6px">0.00000</div>
<div class="t ax" style="top:388.6px">-0.00080</div>
<div class="t ax" style="top:414.9px">-0.00160</div>
<svg width="70" height="30" viewBox="935 170 70 30" style="position:absolute;left:935px;top:170px"><polygon points="938.5,184.5 946,176 998,176 998,192.6 946.5,192.6" fill="#869398"/></svg>
<div class="t" style="left:950px;top:180.2px;font-size:12px;color:#fff;-webkit-text-stroke:0.35px #fff">0.86852</div>
<div class="t" style="left:883.6px;top:273.8px;font-size:14.5px;color:#ff8a14">44</div>
<div class="t" style="left:899.5px;top:273.8px;font-size:14.5px;color:#b4bbc0">m</div>
<div class="t" style="left:916.8px;top:273.8px;font-size:14.5px;color:#ff8a14">37</div>
<div class="t" style="left:934.1px;top:273.8px;font-size:14.5px;color:#b4bbc0">s</div>
<div class="t tm" style="left:3.9px">31.12.2025</div><div class="t tm" style="left:73.1px">15:00</div>
<div class="t tm" style="left:137.9px">05.01</div><div class="t tm" style="left:174.0px">13:00</div>
<div class="t tm" style="left:271.9px">07.01</div><div class="t tm" style="left:308.0px">08:00</div>
<div class="t tm" style="left:404.9px">09.01</div><div class="t tm" style="left:441.0px">03:00</div>
<div class="t tm" style="left:538.9px">12.01</div><div class="t tm" style="left:575.0px">23:00</div>
<div class="t tm" style="left:671.9px">14.01</div><div class="t tm" style="left:708.0px">18:00</div>
<div class="t tm" style="left:805.9px">16.01</div><div class="t tm" style="left:842.0px">13:00</div>
<div class="t" style="left:31.2px;top:244.4px;font-size:10px;color:#636363;letter-spacing:-0.5px">EMA</div><div class="t" style="left:56.6px;top:244.4px;font-size:10px;color:#636363;letter-spacing:-0.1px">[50,</div><div class="t" style="left:77.6px;top:244.4px;font-size:10px;color:#636363;letter-spacing:-0.2px">0]</div><div class="t" style="left:89.8px;top:244.4px;font-size:10px;color:#636363;letter-spacing:0px">0.86754</div>
<div class="t" style="left:31.2px;top:258.4px;font-size:10px;color:#636363;letter-spacing:-0.5px">EMA</div><div class="t" style="left:56.6px;top:258.4px;font-size:10px;color:#636363;letter-spacing:-0.1px">[50,</div><div class="t" style="left:77.6px;top:258.4px;font-size:10px;color:#636363;letter-spacing:-0.2px">0]</div><div class="t" style="left:89.8px;top:258.4px;font-size:10px;color:#636363;letter-spacing:0px">0.86754</div>
<div class="t" style="left:31.2px;top:272.4px;font-size:10px;color:#636363;letter-spacing:-0.5px">EMA</div><div class="t" style="left:56.6px;top:272.4px;font-size:10px;color:#636363;letter-spacing:-0.1px">[200,</div><div class="t" style="left:83.6px;top:272.4px;font-size:10px;color:#636363;letter-spacing:-0.2px">0]</div><div class="t" style="left:95.9px;top:272.4px;font-size:10px;color:#636363;letter-spacing:0px">0.86769</div>
<div class="t" style="left:31.2px;top:286.4px;font-size:10px;color:#636363;letter-spacing:-0.5px">EMA</div><div class="t" style="left:56.6px;top:286.4px;font-size:10px;color:#636363;letter-spacing:-0.1px">[200,</div><div class="t" style="left:83.6px;top:286.4px;font-size:10px;color:#636363;letter-spacing:-0.2px">0]</div><div class="t" style="left:95.9px;top:286.4px;font-size:10px;color:#636363;letter-spacing:0px">0.86769</div>
</body></html>
